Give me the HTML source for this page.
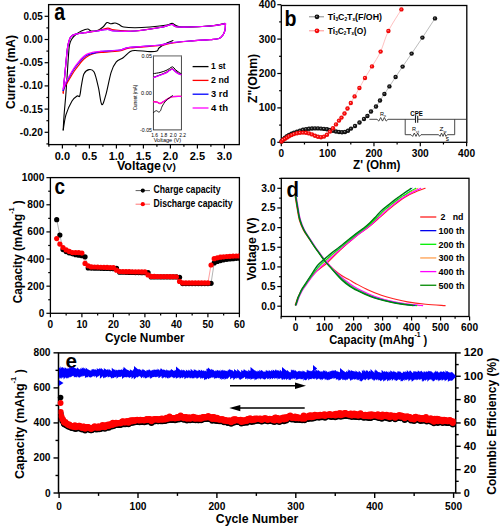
<!DOCTYPE html>
<html><head><meta charset="utf-8"><style>
html,body{margin:0;padding:0;background:#fff;}
svg{display:block;font-family:"Liberation Sans", sans-serif;}
</style></head><body>
<svg width="501" height="529" viewBox="0 0 501 529" font-family='"Liberation Sans", sans-serif'>
<rect width="501" height="529" fill="#fff"/>
<rect x="48.60" y="4.60" width="190.70" height="140.00" fill="none" stroke="#000" stroke-width="1.3"/>
<line x1="48.60" y1="16.30" x2="44.60" y2="16.30" stroke="#000" stroke-width="1.2" />
<line x1="48.60" y1="39.50" x2="44.60" y2="39.50" stroke="#000" stroke-width="1.2" />
<line x1="48.60" y1="62.70" x2="44.60" y2="62.70" stroke="#000" stroke-width="1.2" />
<line x1="48.60" y1="85.90" x2="44.60" y2="85.90" stroke="#000" stroke-width="1.2" />
<line x1="48.60" y1="109.10" x2="44.60" y2="109.10" stroke="#000" stroke-width="1.2" />
<line x1="48.60" y1="132.30" x2="44.60" y2="132.30" stroke="#000" stroke-width="1.2" />
<line x1="48.60" y1="27.90" x2="46.40" y2="27.90" stroke="#000" stroke-width="1.2" />
<line x1="48.60" y1="51.10" x2="46.40" y2="51.10" stroke="#000" stroke-width="1.2" />
<line x1="48.60" y1="74.30" x2="46.40" y2="74.30" stroke="#000" stroke-width="1.2" />
<line x1="48.60" y1="97.50" x2="46.40" y2="97.50" stroke="#000" stroke-width="1.2" />
<line x1="48.60" y1="120.70" x2="46.40" y2="120.70" stroke="#000" stroke-width="1.2" />
<line x1="48.60" y1="143.90" x2="46.40" y2="143.90" stroke="#000" stroke-width="1.2" />
<text x="42.80" y="19.80" font-size="10" font-weight="bold" text-anchor="end" fill="#000" textLength="19.2" lengthAdjust="spacingAndGlyphs" >0.05</text>
<text x="42.80" y="43.00" font-size="10" font-weight="bold" text-anchor="end" fill="#000" textLength="19.2" lengthAdjust="spacingAndGlyphs" >0.00</text>
<text x="42.80" y="66.20" font-size="10" font-weight="bold" text-anchor="end" fill="#000" textLength="23" lengthAdjust="spacingAndGlyphs" >-0.05</text>
<text x="42.80" y="89.40" font-size="10" font-weight="bold" text-anchor="end" fill="#000" textLength="23" lengthAdjust="spacingAndGlyphs" >-0.10</text>
<text x="42.80" y="112.60" font-size="10" font-weight="bold" text-anchor="end" fill="#000" textLength="23" lengthAdjust="spacingAndGlyphs" >-0.15</text>
<text x="42.80" y="135.80" font-size="10" font-weight="bold" text-anchor="end" fill="#000" textLength="23" lengthAdjust="spacingAndGlyphs" >-0.20</text>
<line x1="62.40" y1="144.60" x2="62.40" y2="148.60" stroke="#000" stroke-width="1.2" />
<line x1="89.40" y1="144.60" x2="89.40" y2="148.60" stroke="#000" stroke-width="1.2" />
<line x1="116.40" y1="144.60" x2="116.40" y2="148.60" stroke="#000" stroke-width="1.2" />
<line x1="143.40" y1="144.60" x2="143.40" y2="148.60" stroke="#000" stroke-width="1.2" />
<line x1="170.40" y1="144.60" x2="170.40" y2="148.60" stroke="#000" stroke-width="1.2" />
<line x1="197.40" y1="144.60" x2="197.40" y2="148.60" stroke="#000" stroke-width="1.2" />
<line x1="224.40" y1="144.60" x2="224.40" y2="148.60" stroke="#000" stroke-width="1.2" />
<line x1="48.90" y1="144.60" x2="48.90" y2="146.80" stroke="#000" stroke-width="1.2" />
<line x1="75.90" y1="144.60" x2="75.90" y2="146.80" stroke="#000" stroke-width="1.2" />
<line x1="102.90" y1="144.60" x2="102.90" y2="146.80" stroke="#000" stroke-width="1.2" />
<line x1="129.90" y1="144.60" x2="129.90" y2="146.80" stroke="#000" stroke-width="1.2" />
<line x1="156.90" y1="144.60" x2="156.90" y2="146.80" stroke="#000" stroke-width="1.2" />
<line x1="183.90" y1="144.60" x2="183.90" y2="146.80" stroke="#000" stroke-width="1.2" />
<line x1="210.90" y1="144.60" x2="210.90" y2="146.80" stroke="#000" stroke-width="1.2" />
<text x="62.40" y="159.50" font-size="10" font-weight="bold" text-anchor="middle" fill="#000" textLength="15.3" lengthAdjust="spacingAndGlyphs" >0.0</text>
<text x="89.40" y="159.50" font-size="10" font-weight="bold" text-anchor="middle" fill="#000" textLength="15.3" lengthAdjust="spacingAndGlyphs" >0.5</text>
<text x="116.40" y="159.50" font-size="10" font-weight="bold" text-anchor="middle" fill="#000" textLength="15.3" lengthAdjust="spacingAndGlyphs" >1.0</text>
<text x="143.40" y="159.50" font-size="10" font-weight="bold" text-anchor="middle" fill="#000" textLength="15.3" lengthAdjust="spacingAndGlyphs" >1.5</text>
<text x="170.40" y="159.50" font-size="10" font-weight="bold" text-anchor="middle" fill="#000" textLength="15.3" lengthAdjust="spacingAndGlyphs" >2.0</text>
<text x="197.40" y="159.50" font-size="10" font-weight="bold" text-anchor="middle" fill="#000" textLength="15.3" lengthAdjust="spacingAndGlyphs" >2.5</text>
<text x="224.40" y="159.50" font-size="10" font-weight="bold" text-anchor="middle" fill="#000" textLength="15.3" lengthAdjust="spacingAndGlyphs" >3.0</text>
<text x="117.00" y="170.00" font-size="12.5" font-weight="bold" text-anchor="start" fill="#000" textLength="44" lengthAdjust="spacingAndGlyphs" >Voltage</text>
<text x="162.50" y="170.00" font-size="9.5" font-weight="bold" text-anchor="start" fill="#000" textLength="13.5" lengthAdjust="spacingAndGlyphs" >(V)</text>
<text transform="translate(15.40,72.00) rotate(-90)" x="0" y="0" font-size="12.5" font-weight="bold" text-anchor="middle" textLength="74" lengthAdjust="spacingAndGlyphs">Current (mA)</text>
<text x="54.20" y="19.60" font-size="23" font-weight="bold" text-anchor="start" fill="#000" textLength="10.8" lengthAdjust="spacingAndGlyphs" >a</text>
<line x1="192.60" y1="66.60" x2="208.50" y2="66.60" stroke="#000" stroke-width="1.3" />
<text x="211.10" y="69.40" font-size="9" font-weight="bold" text-anchor="start" fill="#000" textLength="14.6" lengthAdjust="spacingAndGlyphs" >1 st</text>
<line x1="192.60" y1="80.40" x2="208.50" y2="80.40" stroke="#ff0000" stroke-width="1.3" />
<text x="211.10" y="83.20" font-size="9" font-weight="bold" text-anchor="start" fill="#000" textLength="18" lengthAdjust="spacingAndGlyphs" >2 nd</text>
<line x1="192.60" y1="94.20" x2="208.50" y2="94.20" stroke="#0000ff" stroke-width="1.3" />
<text x="211.10" y="97.00" font-size="9" font-weight="bold" text-anchor="start" fill="#000" textLength="17" lengthAdjust="spacingAndGlyphs" >3 rd</text>
<line x1="192.60" y1="108.00" x2="208.50" y2="108.00" stroke="#ff00ff" stroke-width="1.3" />
<text x="211.10" y="110.80" font-size="9" font-weight="bold" text-anchor="start" fill="#000" textLength="17" lengthAdjust="spacingAndGlyphs" >4 th</text>
<path d="M63.20,130.00 C63.33,127.67 63.57,121.83 64.00,116.00 C64.43,110.17 65.27,101.83 65.80,95.00 C66.33,88.17 66.78,81.17 67.20,75.00 C67.62,68.83 67.92,63.00 68.30,58.00 C68.68,53.00 68.92,48.17 69.50,45.00 C70.08,41.83 70.75,40.75 71.80,39.00 C72.85,37.25 74.20,35.83 75.80,34.50 C77.40,33.17 79.42,31.92 81.40,31.00 C83.38,30.08 86.10,29.00 87.70,29.00 C89.30,29.00 89.28,30.80 91.00,31.00 C92.72,31.20 96.00,30.87 98.00,30.20 C100.00,29.53 101.50,28.27 103.00,27.00 C104.50,25.73 105.67,23.13 107.00,22.60 C108.33,22.07 109.67,23.73 111.00,23.80 C112.33,23.87 113.67,22.87 115.00,23.00 C116.33,23.13 117.55,23.93 119.00,24.60 C120.45,25.27 121.03,26.47 123.70,27.00 C126.37,27.53 130.62,27.80 135.00,27.80 C139.38,27.80 144.67,27.47 150.00,27.00 C155.33,26.53 163.33,25.60 167.00,25.00 C170.67,24.40 170.50,23.33 172.00,23.40 C173.50,23.47 174.33,24.80 176.00,25.40 C177.67,26.00 176.33,26.90 182.00,27.00 C187.67,27.10 202.83,26.60 210.00,26.00 C217.17,25.40 222.50,23.83 225.00,23.40" fill="none" stroke="#000" stroke-width="1.1" stroke-linejoin="round" stroke-linecap="round" />
<path d="M63.20,130.00 C63.67,127.45 64.53,119.53 66.00,114.70 C67.47,109.87 70.15,104.12 72.00,101.00 C73.85,97.88 75.82,96.83 77.10,96.00 C78.38,95.17 78.98,97.72 79.70,96.00 C80.42,94.28 80.68,89.40 81.40,85.70 C82.12,82.00 82.73,76.48 84.00,73.80 C85.27,71.12 87.32,69.88 89.00,69.60 C90.68,69.32 92.53,69.13 94.10,72.10 C95.67,75.07 97.12,82.00 98.40,87.40 C99.68,92.80 100.53,103.35 101.80,104.50 C103.07,105.65 104.43,99.70 106.00,94.30 C107.57,88.90 109.48,77.50 111.20,72.10 C112.92,66.70 114.32,64.30 116.30,61.90 C118.28,59.50 120.83,59.40 123.10,57.70 C125.37,56.00 127.92,52.90 129.90,51.70 C131.88,50.50 131.65,50.52 135.00,50.50 C138.35,50.48 146.33,51.52 150.00,51.60 C153.67,51.68 155.50,51.60 157.00,51.00 C158.50,50.40 157.67,49.17 159.00,48.00 C160.33,46.83 162.67,45.23 165.00,44.00 C167.33,42.77 171.67,41.17 173.00,40.60" fill="none" stroke="#000" stroke-width="1.1" stroke-linejoin="round" stroke-linecap="round" />
<path d="M63.20,93.40 C63.42,90.83 64.00,83.57 64.50,78.00 C65.00,72.43 65.70,65.00 66.20,60.00 C66.70,55.00 67.03,51.17 67.50,48.00 C67.97,44.83 68.42,42.90 69.00,41.00 C69.58,39.10 69.87,37.73 71.00,36.60 C72.13,35.47 73.13,34.92 75.80,34.20 C78.47,33.48 83.55,32.83 87.00,32.30 C90.45,31.77 93.05,31.68 96.50,31.00 C99.95,30.32 104.77,28.40 107.70,28.20 C110.63,28.00 109.57,29.33 114.10,29.80 C118.63,30.27 127.25,31.38 134.90,31.00 C142.55,30.62 153.82,28.58 160.00,27.50 C166.18,26.42 169.00,24.58 172.00,24.50 C175.00,24.42 171.67,26.75 178.00,27.00 C184.33,27.25 202.08,26.57 210.00,26.00 C217.92,25.43 222.92,24.00 225.50,23.60" fill="none" stroke="#ff0000" stroke-width="1.2" stroke-linejoin="round" stroke-linecap="round" />
<path d="M225.50,23.60 C225.42,24.67 225.42,28.10 225.00,30.00 C224.58,31.90 224.00,33.58 223.00,35.00 C222.00,36.42 221.17,37.73 219.00,38.50 C216.83,39.27 214.83,39.18 210.00,39.60 C205.17,40.02 196.67,40.35 190.00,41.00 C183.33,41.65 175.00,42.75 170.00,43.50 C165.00,44.25 166.67,44.75 160.00,45.50 C153.33,46.25 136.72,47.08 130.00,48.00 C123.28,48.92 124.53,50.25 119.70,51.00 C114.87,51.75 105.12,52.13 101.00,52.50 C96.88,52.87 96.83,52.78 95.00,53.20 C93.17,53.62 91.47,54.32 90.00,55.00 C88.53,55.68 87.53,56.30 86.20,57.30 C84.87,58.30 83.27,59.67 82.00,61.00 C80.73,62.33 79.93,63.55 78.60,65.30 C77.27,67.05 75.57,69.13 74.00,71.50 C72.43,73.87 70.78,76.83 69.20,79.50 C67.62,82.17 65.50,85.37 64.50,87.50 C63.50,89.63 63.42,91.50 63.20,92.30" fill="none" stroke="#ff0000" stroke-width="1.2" stroke-linejoin="round" stroke-linecap="round" />
<path d="M63.20,90.50 C63.42,88.42 64.00,83.08 64.50,78.00 C65.00,72.92 65.70,65.00 66.20,60.00 C66.70,55.00 67.03,51.17 67.50,48.00 C67.97,44.83 68.42,42.90 69.00,41.00 C69.58,39.10 69.87,37.73 71.00,36.60 C72.13,35.47 73.13,34.92 75.80,34.20 C78.47,33.48 83.55,32.83 87.00,32.30 C90.45,31.77 93.05,31.48 96.50,31.00 C99.95,30.52 104.77,29.40 107.70,29.40 C110.63,29.40 109.57,30.73 114.10,31.00 C118.63,31.27 127.25,31.58 134.90,31.00 C142.55,30.42 153.82,28.58 160.00,27.50 C166.18,26.42 169.00,24.58 172.00,24.50 C175.00,24.42 171.67,26.75 178.00,27.00 C184.33,27.25 202.08,26.57 210.00,26.00 C217.92,25.43 222.92,24.00 225.50,23.60" fill="none" stroke="#0000ff" stroke-width="1.2" stroke-linejoin="round" stroke-linecap="round" />
<path d="M225.50,23.60 C225.42,24.67 225.42,28.10 225.00,30.00 C224.58,31.90 224.00,33.58 223.00,35.00 C222.00,36.42 221.17,37.73 219.00,38.50 C216.83,39.27 214.83,39.18 210.00,39.60 C205.17,40.02 196.67,40.43 190.00,41.00 C183.33,41.57 175.00,42.33 170.00,43.00 C165.00,43.67 166.67,44.27 160.00,45.00 C153.33,45.73 136.72,46.57 130.00,47.40 C123.28,48.23 124.53,49.35 119.70,50.00 C114.87,50.65 105.12,50.83 101.00,51.30 C96.88,51.77 96.83,52.35 95.00,52.80 C93.17,53.25 91.47,53.53 90.00,54.00 C88.53,54.47 87.53,54.77 86.20,55.60 C84.87,56.43 83.27,57.77 82.00,59.00 C80.73,60.23 79.93,61.33 78.60,63.00 C77.27,64.67 75.57,66.63 74.00,69.00 C72.43,71.37 70.53,74.87 69.20,77.20 C67.87,79.53 67.00,80.78 66.00,83.00 C65.00,85.22 63.67,89.25 63.20,90.50" fill="none" stroke="#0000ff" stroke-width="1.2" stroke-linejoin="round" stroke-linecap="round" />
<path d="M63.20,89.00 C63.42,87.17 64.00,82.83 64.50,78.00 C65.00,73.17 65.70,65.00 66.20,60.00 C66.70,55.00 67.03,51.17 67.50,48.00 C67.97,44.83 68.42,42.90 69.00,41.00 C69.58,39.10 69.87,37.73 71.00,36.60 C72.13,35.47 73.13,34.92 75.80,34.20 C78.47,33.48 83.55,32.83 87.00,32.30 C90.45,31.77 93.05,31.48 96.50,31.00 C99.95,30.52 104.77,29.40 107.70,29.40 C110.63,29.40 109.57,30.73 114.10,31.00 C118.63,31.27 127.25,31.58 134.90,31.00 C142.55,30.42 153.82,28.58 160.00,27.50 C166.18,26.42 169.00,24.58 172.00,24.50 C175.00,24.42 171.67,26.75 178.00,27.00 C184.33,27.25 202.08,26.57 210.00,26.00 C217.92,25.43 222.92,24.00 225.50,23.60" fill="none" stroke="#ff00ff" stroke-width="1.25" stroke-linejoin="round" stroke-linecap="round" />
<path d="M225.50,23.60 C225.42,24.67 225.42,28.10 225.00,30.00 C224.58,31.90 224.00,33.58 223.00,35.00 C222.00,36.42 221.17,37.73 219.00,38.50 C216.83,39.27 214.83,39.18 210.00,39.60 C205.17,40.02 196.67,40.43 190.00,41.00 C183.33,41.57 175.00,42.33 170.00,43.00 C165.00,43.67 166.67,44.27 160.00,45.00 C153.33,45.73 136.72,46.57 130.00,47.40 C123.28,48.23 124.53,49.35 119.70,50.00 C114.87,50.65 105.12,51.00 101.00,51.30 C96.88,51.60 96.83,51.52 95.00,51.80 C93.17,52.08 91.47,52.53 90.00,53.00 C88.53,53.47 87.53,53.77 86.20,54.60 C84.87,55.43 83.27,56.77 82.00,58.00 C80.73,59.23 79.93,60.33 78.60,62.00 C77.27,63.67 75.57,65.63 74.00,68.00 C72.43,70.37 70.53,73.87 69.20,76.20 C67.87,78.53 67.00,79.90 66.00,82.00 C65.00,84.10 63.67,87.67 63.20,88.80" fill="none" stroke="#ff00ff" stroke-width="1.25" stroke-linejoin="round" stroke-linecap="round" />
<rect x="153.4" y="55.8" width="28.00" height="74.10" fill="#fff" stroke="#333" stroke-width="0.9"/>
<line x1="153.40" y1="55.80" x2="181.40" y2="55.80" stroke="#aaa" stroke-width="1.4" />
<text x="151.90" y="57.60" font-size="6" font-weight="normal" text-anchor="end" fill="#000" textLength="10.5" lengthAdjust="spacingAndGlyphs" >0.05</text>
<text x="151.90" y="94.90" font-size="6" font-weight="normal" text-anchor="end" fill="#000" textLength="10.8" lengthAdjust="spacingAndGlyphs" >0.00</text>
<text x="151.90" y="131.70" font-size="6" font-weight="normal" text-anchor="end" fill="#000" textLength="11.8" lengthAdjust="spacingAndGlyphs" >-0.05</text>
<text transform="translate(137.10,97.50) rotate(-90)" x="0" y="0" font-size="6" font-weight="normal" text-anchor="middle" textLength="25.5" lengthAdjust="spacingAndGlyphs">Current (mA)</text>
<text x="154.60" y="136.50" font-size="6" font-weight="normal" text-anchor="middle" fill="#000" textLength="6.8" lengthAdjust="spacingAndGlyphs" >1.6</text>
<text x="163.93" y="136.50" font-size="6" font-weight="normal" text-anchor="middle" fill="#000" textLength="6.8" lengthAdjust="spacingAndGlyphs" >1.8</text>
<text x="173.27" y="136.50" font-size="6" font-weight="normal" text-anchor="middle" fill="#000" textLength="6.8" lengthAdjust="spacingAndGlyphs" >2.0</text>
<text x="182.60" y="136.50" font-size="6" font-weight="normal" text-anchor="middle" fill="#000" textLength="6.8" lengthAdjust="spacingAndGlyphs" >2.2</text>
<text x="167.40" y="142.30" font-size="6" font-weight="normal" text-anchor="middle" fill="#000" textLength="27.5" lengthAdjust="spacingAndGlyphs" >Voltage (V)</text>
<path d="M153.60,73.60 C154.67,73.42 157.93,73.02 160.00,72.50 C162.07,71.98 164.42,71.17 166.00,70.50 C167.58,69.83 168.45,69.12 169.50,68.50 C170.55,67.88 171.55,66.88 172.30,66.80 C173.05,66.72 173.22,67.30 174.00,68.00 C174.78,68.70 175.83,70.07 177.00,71.00 C178.17,71.93 180.33,73.17 181.00,73.60" fill="none" stroke="#000" stroke-width="1.0" stroke-linejoin="round" stroke-linecap="round" />
<path d="M153.60,77.40 C154.67,77.00 157.93,75.82 160.00,75.00 C162.07,74.18 164.42,73.30 166.00,72.50 C167.58,71.70 168.45,70.83 169.50,70.20 C170.55,69.57 171.55,68.73 172.30,68.70 C173.05,68.67 173.22,69.37 174.00,70.00 C174.78,70.63 175.83,71.73 177.00,72.50 C178.17,73.27 180.33,74.25 181.00,74.60" fill="none" stroke="#ff0000" stroke-width="1.1" stroke-linejoin="round" stroke-linecap="round" />
<path d="M153.60,77.40 C154.67,77.00 157.93,75.77 160.00,75.00 C162.07,74.23 164.42,73.57 166.00,72.80 C167.58,72.03 168.45,71.03 169.50,70.40 C170.55,69.77 171.55,69.03 172.30,69.00 C173.05,68.97 173.22,69.58 174.00,70.20 C174.78,70.82 175.83,71.97 177.00,72.70 C178.17,73.43 180.33,74.28 181.00,74.60" fill="none" stroke="#0000ff" stroke-width="1.1" stroke-linejoin="round" stroke-linecap="round" />
<path d="M153.60,77.80 C154.67,77.38 157.93,76.10 160.00,75.30 C162.07,74.50 164.42,73.78 166.00,73.00 C167.58,72.22 168.45,71.22 169.50,70.60 C170.55,69.98 171.55,69.32 172.30,69.30 C173.05,69.28 173.22,69.88 174.00,70.50 C174.78,71.12 175.83,72.28 177.00,73.00 C178.17,73.72 180.33,74.50 181.00,74.80" fill="none" stroke="#ff00ff" stroke-width="1.1" stroke-linejoin="round" stroke-linecap="round" />
<path d="M153.60,101.60 C154.17,101.67 155.93,101.67 157.00,102.00 C158.07,102.33 159.00,103.60 160.00,103.60 C161.00,103.60 161.75,102.75 163.00,102.00 C164.25,101.25 165.92,100.00 167.50,99.10 C169.08,98.20 170.25,97.07 172.50,96.60 C174.75,96.13 179.58,96.35 181.00,96.30" fill="none" stroke="#ff0000" stroke-width="1.2" stroke-linejoin="round" stroke-linecap="round" />
<path d="M153.60,101.80 C154.17,101.87 155.93,101.93 157.00,102.20 C158.07,102.47 159.00,103.47 160.00,103.40 C161.00,103.33 161.75,102.52 163.00,101.80 C164.25,101.08 165.92,99.97 167.50,99.10 C169.08,98.23 170.25,97.07 172.50,96.60 C174.75,96.13 179.58,96.35 181.00,96.30" fill="none" stroke="#ff00ff" stroke-width="1.2" stroke-linejoin="round" stroke-linecap="round" />
<path d="M153.60,112.50 C154.05,112.20 155.45,110.78 156.30,110.70 C157.15,110.62 158.00,112.00 158.70,112.00 C159.40,112.00 159.90,111.70 160.50,110.70 C161.10,109.70 161.38,107.68 162.30,106.00 C163.22,104.32 164.80,101.97 166.00,100.60 C167.20,99.23 168.42,98.63 169.50,97.80 C170.58,96.97 172.00,95.97 172.50,95.60" fill="none" stroke="#000" stroke-width="0.9" stroke-linejoin="round" stroke-linecap="round" />
<defs><radialGradient id="gb" cx="0.5" cy="0.5" r="0.5" fx="0.4" fy="0.4"><stop offset="0" stop-color="#999"/><stop offset="0.4" stop-color="#222"/><stop offset="1" stop-color="#000"/></radialGradient><radialGradient id="gr" cx="0.5" cy="0.5" r="0.5" fx="0.4" fy="0.4"><stop offset="0" stop-color="#ffaaaa"/><stop offset="0.4" stop-color="#ff1010"/><stop offset="1" stop-color="#e00000"/></radialGradient></defs>
<rect x="281.30" y="5.50" width="185.50" height="136.80" fill="none" stroke="#000" stroke-width="1.3"/>
<line x1="281.30" y1="142.30" x2="277.30" y2="142.30" stroke="#000" stroke-width="1.2" />
<line x1="281.30" y1="107.90" x2="277.30" y2="107.90" stroke="#000" stroke-width="1.2" />
<line x1="281.30" y1="73.50" x2="277.30" y2="73.50" stroke="#000" stroke-width="1.2" />
<line x1="281.30" y1="39.10" x2="277.30" y2="39.10" stroke="#000" stroke-width="1.2" />
<line x1="281.30" y1="4.70" x2="277.30" y2="4.70" stroke="#000" stroke-width="1.2" />
<line x1="281.30" y1="125.10" x2="279.10" y2="125.10" stroke="#000" stroke-width="1.2" />
<line x1="281.30" y1="90.70" x2="279.10" y2="90.70" stroke="#000" stroke-width="1.2" />
<line x1="281.30" y1="56.30" x2="279.10" y2="56.30" stroke="#000" stroke-width="1.2" />
<line x1="281.30" y1="21.90" x2="279.10" y2="21.90" stroke="#000" stroke-width="1.2" />
<text x="275.80" y="145.80" font-size="10" font-weight="bold" text-anchor="end" fill="#000" textLength="5.6" lengthAdjust="spacingAndGlyphs" >0</text>
<text x="275.80" y="111.40" font-size="10" font-weight="bold" text-anchor="end" fill="#000" textLength="17" lengthAdjust="spacingAndGlyphs" >100</text>
<text x="275.80" y="77.00" font-size="10" font-weight="bold" text-anchor="end" fill="#000" textLength="17" lengthAdjust="spacingAndGlyphs" >200</text>
<text x="275.80" y="42.60" font-size="10" font-weight="bold" text-anchor="end" fill="#000" textLength="17" lengthAdjust="spacingAndGlyphs" >300</text>
<text x="275.80" y="8.20" font-size="10" font-weight="bold" text-anchor="end" fill="#000" textLength="17" lengthAdjust="spacingAndGlyphs" >400</text>
<line x1="281.30" y1="142.30" x2="281.30" y2="146.30" stroke="#000" stroke-width="1.2" />
<line x1="327.63" y1="142.30" x2="327.63" y2="146.30" stroke="#000" stroke-width="1.2" />
<line x1="373.96" y1="142.30" x2="373.96" y2="146.30" stroke="#000" stroke-width="1.2" />
<line x1="420.29" y1="142.30" x2="420.29" y2="146.30" stroke="#000" stroke-width="1.2" />
<line x1="466.62" y1="142.30" x2="466.62" y2="146.30" stroke="#000" stroke-width="1.2" />
<line x1="304.47" y1="142.30" x2="304.47" y2="144.50" stroke="#000" stroke-width="1.2" />
<line x1="350.80" y1="142.30" x2="350.80" y2="144.50" stroke="#000" stroke-width="1.2" />
<line x1="397.12" y1="142.30" x2="397.12" y2="144.50" stroke="#000" stroke-width="1.2" />
<line x1="443.46" y1="142.30" x2="443.46" y2="144.50" stroke="#000" stroke-width="1.2" />
<text x="281.30" y="157.00" font-size="10" font-weight="bold" text-anchor="middle" fill="#000" textLength="5.6" lengthAdjust="spacingAndGlyphs" >0</text>
<text x="327.63" y="157.00" font-size="10" font-weight="bold" text-anchor="middle" fill="#000" textLength="17" lengthAdjust="spacingAndGlyphs" >100</text>
<text x="373.96" y="157.00" font-size="10" font-weight="bold" text-anchor="middle" fill="#000" textLength="17" lengthAdjust="spacingAndGlyphs" >200</text>
<text x="420.29" y="157.00" font-size="10" font-weight="bold" text-anchor="middle" fill="#000" textLength="17" lengthAdjust="spacingAndGlyphs" >300</text>
<text x="466.62" y="157.00" font-size="10" font-weight="bold" text-anchor="middle" fill="#000" textLength="17" lengthAdjust="spacingAndGlyphs" >400</text>
<text x="353.00" y="169.00" font-size="12.5" font-weight="bold" text-anchor="start" fill="#000" textLength="47.5" lengthAdjust="spacingAndGlyphs" >Z' (Ohm)</text>
<text transform="translate(256.80,78.40) rotate(-90)" x="0" y="0" font-size="12" font-weight="bold" text-anchor="middle" textLength="49" lengthAdjust="spacingAndGlyphs">Z"(Ohm)</text>
<text x="284.60" y="26.00" font-size="22" font-weight="bold" text-anchor="start" fill="#000" textLength="12" lengthAdjust="spacingAndGlyphs" >b</text>
<line x1="309.00" y1="16.80" x2="324.00" y2="16.80" stroke="#555" stroke-width="0.7" />
<circle cx="317" cy="16.8" r="2.4" fill="url(#gb)"/>
<line x1="309.00" y1="30.80" x2="324.00" y2="30.80" stroke="#ff6060" stroke-width="0.7" />
<circle cx="317" cy="30.8" r="2.4" fill="url(#gr)"/>
<text x="327.8" y="20.2" font-size="9.3" font-weight="bold" textLength="54.2" lengthAdjust="spacingAndGlyphs">Ti<tspan font-size="5" dy="0.6">3</tspan><tspan dy="-0.6">C</tspan><tspan font-size="5" dy="0.6">2</tspan><tspan dy="-0.6">T</tspan><tspan font-size="5" dy="0.6">x</tspan><tspan dy="-0.6">(F/OH)</tspan></text>
<text x="327.8" y="34.2" font-size="9.3" font-weight="bold" textLength="38.4" lengthAdjust="spacingAndGlyphs">Ti<tspan font-size="5" dy="0.6">3</tspan><tspan dy="-0.6">C</tspan><tspan font-size="5" dy="0.6">2</tspan><tspan dy="-0.6">T</tspan><tspan font-size="5" dy="0.6">x</tspan><tspan dy="-0.6">(O)</tspan></text>
<path d="M281.50,141.50 C281.75,141.17 282.42,140.12 283.00,139.50 C283.58,138.88 284.33,138.33 285.00,137.80 C285.67,137.27 286.33,136.77 287.00,136.30 C287.67,135.83 288.25,135.43 289.00,135.00 C289.75,134.57 290.67,134.10 291.50,133.70 C292.33,133.30 293.08,132.95 294.00,132.60 C294.92,132.25 296.00,131.93 297.00,131.60 C298.00,131.27 299.00,130.90 300.00,130.60 C301.00,130.30 302.00,130.03 303.00,129.80 C304.00,129.57 305.00,129.37 306.00,129.20 C307.00,129.03 308.00,128.92 309.00,128.80 C310.00,128.68 311.00,128.57 312.00,128.50 C313.00,128.43 314.00,128.42 315.00,128.40 C316.00,128.38 317.00,128.37 318.00,128.40 C319.00,128.43 320.00,128.52 321.00,128.60 C322.00,128.68 323.00,128.78 324.00,128.90 C325.00,129.02 326.00,129.12 327.00,129.30 C328.00,129.48 329.00,129.75 330.00,130.00 C331.00,130.25 332.00,130.55 333.00,130.80 C334.00,131.05 335.00,131.30 336.00,131.50 C337.00,131.70 338.00,131.87 339.00,132.00 C340.00,132.13 341.00,132.30 342.00,132.30 C343.00,132.30 344.00,132.25 345.00,132.00 C346.00,131.75 347.00,131.37 348.00,130.80 C349.00,130.23 349.83,129.40 351.00,128.60 C352.17,127.80 353.58,127.02 355.00,126.00 C356.42,124.98 358.00,123.67 359.50,122.50 C361.00,121.33 362.68,120.08 364.00,119.00 C365.32,117.92 366.23,117.25 367.40,116.00 C368.57,114.75 369.57,113.08 371.00,111.50 C372.43,109.92 374.50,108.33 376.00,106.50 C377.50,104.67 378.60,102.58 380.00,100.50 C381.40,98.42 382.83,96.35 384.40,94.00 C385.97,91.65 387.53,89.23 389.40,86.40 C391.27,83.57 393.40,80.30 395.60,77.00 C397.80,73.70 399.93,70.50 402.60,66.60 C405.27,62.70 408.30,58.43 411.60,53.60 C414.90,48.77 418.50,43.47 422.40,37.60 C426.30,31.73 432.90,21.60 435.00,18.40" fill="none" stroke="#777" stroke-width="0.5" stroke-linejoin="round" stroke-linecap="round" />
<path d="M281.50,141.50 C281.75,141.25 282.42,140.47 283.00,140.00 C283.58,139.53 284.33,139.12 285.00,138.70 C285.67,138.28 286.33,137.90 287.00,137.50 C287.67,137.10 288.25,136.70 289.00,136.30 C289.75,135.90 290.67,135.47 291.50,135.10 C292.33,134.73 293.08,134.40 294.00,134.10 C294.92,133.80 296.00,133.52 297.00,133.30 C298.00,133.08 299.00,132.92 300.00,132.80 C301.00,132.68 302.00,132.60 303.00,132.60 C304.00,132.60 305.00,132.67 306.00,132.80 C307.00,132.93 308.00,133.13 309.00,133.40 C310.00,133.67 311.00,134.02 312.00,134.40 C313.00,134.78 314.00,135.30 315.00,135.70 C316.00,136.10 317.00,136.55 318.00,136.80 C319.00,137.05 320.00,137.23 321.00,137.20 C322.00,137.17 323.00,137.00 324.00,136.60 C325.00,136.20 326.00,135.63 327.00,134.80 C328.00,133.97 329.00,132.68 330.00,131.60 C331.00,130.52 332.00,129.50 333.00,128.30 C334.00,127.10 335.00,125.68 336.00,124.40 C337.00,123.12 338.08,121.73 339.00,120.60 C339.92,119.47 340.58,118.78 341.50,117.60 C342.42,116.42 343.50,115.02 344.50,113.50 C345.50,111.98 346.45,110.25 347.50,108.50 C348.55,106.75 349.62,105.02 350.80,103.00 C351.98,100.98 353.17,98.90 354.60,96.40 C356.03,93.90 357.67,91.07 359.40,88.00 C361.13,84.93 362.90,81.60 365.00,78.00 C367.10,74.40 369.40,70.80 372.00,66.40 C374.60,62.00 377.87,57.50 380.60,51.60 C383.33,45.70 384.93,38.03 388.40,31.00 C391.87,23.97 399.23,13.00 401.40,9.40" fill="none" stroke="#ff8080" stroke-width="0.5" stroke-linejoin="round" stroke-linecap="round" />
<circle cx="281.5" cy="141.5" r="2.2" fill="url(#gb)"/>
<circle cx="283.0" cy="139.5" r="2.2" fill="url(#gb)"/>
<circle cx="285.0" cy="137.8" r="2.2" fill="url(#gb)"/>
<circle cx="287.0" cy="136.3" r="2.2" fill="url(#gb)"/>
<circle cx="289.0" cy="135.0" r="2.2" fill="url(#gb)"/>
<circle cx="291.5" cy="133.7" r="2.2" fill="url(#gb)"/>
<circle cx="294.0" cy="132.6" r="2.2" fill="url(#gb)"/>
<circle cx="297.0" cy="131.6" r="2.2" fill="url(#gb)"/>
<circle cx="300.0" cy="130.6" r="2.2" fill="url(#gb)"/>
<circle cx="303.0" cy="129.8" r="2.2" fill="url(#gb)"/>
<circle cx="306.0" cy="129.2" r="2.2" fill="url(#gb)"/>
<circle cx="309.0" cy="128.8" r="2.2" fill="url(#gb)"/>
<circle cx="312.0" cy="128.5" r="2.2" fill="url(#gb)"/>
<circle cx="315.0" cy="128.4" r="2.2" fill="url(#gb)"/>
<circle cx="318.0" cy="128.4" r="2.2" fill="url(#gb)"/>
<circle cx="321.0" cy="128.6" r="2.2" fill="url(#gb)"/>
<circle cx="324.0" cy="128.9" r="2.2" fill="url(#gb)"/>
<circle cx="327.0" cy="129.3" r="2.2" fill="url(#gb)"/>
<circle cx="330.0" cy="130.0" r="2.2" fill="url(#gb)"/>
<circle cx="333.0" cy="130.8" r="2.2" fill="url(#gb)"/>
<circle cx="336.0" cy="131.5" r="2.2" fill="url(#gb)"/>
<circle cx="339.0" cy="132.0" r="2.2" fill="url(#gb)"/>
<circle cx="342.0" cy="132.3" r="2.2" fill="url(#gb)"/>
<circle cx="345.0" cy="132.0" r="2.2" fill="url(#gb)"/>
<circle cx="348.0" cy="130.8" r="2.2" fill="url(#gb)"/>
<circle cx="351.0" cy="128.6" r="2.2" fill="url(#gb)"/>
<circle cx="355.0" cy="126.0" r="2.2" fill="url(#gb)"/>
<circle cx="359.5" cy="122.5" r="2.2" fill="url(#gb)"/>
<circle cx="364.0" cy="119.0" r="2.2" fill="url(#gb)"/>
<circle cx="367.4" cy="116.0" r="2.2" fill="url(#gb)"/>
<circle cx="371.0" cy="111.5" r="2.2" fill="url(#gb)"/>
<circle cx="376.0" cy="106.5" r="2.2" fill="url(#gb)"/>
<circle cx="380.0" cy="100.5" r="2.2" fill="url(#gb)"/>
<circle cx="384.4" cy="94.0" r="2.2" fill="url(#gb)"/>
<circle cx="389.4" cy="86.4" r="2.2" fill="url(#gb)"/>
<circle cx="395.6" cy="77.0" r="2.2" fill="url(#gb)"/>
<circle cx="402.6" cy="66.6" r="2.2" fill="url(#gb)"/>
<circle cx="411.6" cy="53.6" r="2.2" fill="url(#gb)"/>
<circle cx="422.4" cy="37.6" r="2.2" fill="url(#gb)"/>
<circle cx="435.0" cy="18.4" r="2.2" fill="url(#gb)"/>
<circle cx="281.5" cy="141.5" r="2.2" fill="url(#gr)"/>
<circle cx="283.0" cy="140.0" r="2.2" fill="url(#gr)"/>
<circle cx="285.0" cy="138.7" r="2.2" fill="url(#gr)"/>
<circle cx="287.0" cy="137.5" r="2.2" fill="url(#gr)"/>
<circle cx="289.0" cy="136.3" r="2.2" fill="url(#gr)"/>
<circle cx="291.5" cy="135.1" r="2.2" fill="url(#gr)"/>
<circle cx="294.0" cy="134.1" r="2.2" fill="url(#gr)"/>
<circle cx="297.0" cy="133.3" r="2.2" fill="url(#gr)"/>
<circle cx="300.0" cy="132.8" r="2.2" fill="url(#gr)"/>
<circle cx="303.0" cy="132.6" r="2.2" fill="url(#gr)"/>
<circle cx="306.0" cy="132.8" r="2.2" fill="url(#gr)"/>
<circle cx="309.0" cy="133.4" r="2.2" fill="url(#gr)"/>
<circle cx="312.0" cy="134.4" r="2.2" fill="url(#gr)"/>
<circle cx="315.0" cy="135.7" r="2.2" fill="url(#gr)"/>
<circle cx="318.0" cy="136.8" r="2.2" fill="url(#gr)"/>
<circle cx="321.0" cy="137.2" r="2.2" fill="url(#gr)"/>
<circle cx="324.0" cy="136.6" r="2.2" fill="url(#gr)"/>
<circle cx="327.0" cy="134.8" r="2.2" fill="url(#gr)"/>
<circle cx="330.0" cy="131.6" r="2.2" fill="url(#gr)"/>
<circle cx="333.0" cy="128.3" r="2.2" fill="url(#gr)"/>
<circle cx="336.0" cy="124.4" r="2.2" fill="url(#gr)"/>
<circle cx="339.0" cy="120.6" r="2.2" fill="url(#gr)"/>
<circle cx="341.5" cy="117.6" r="2.2" fill="url(#gr)"/>
<circle cx="344.5" cy="113.5" r="2.2" fill="url(#gr)"/>
<circle cx="347.5" cy="108.5" r="2.2" fill="url(#gr)"/>
<circle cx="350.8" cy="103.0" r="2.2" fill="url(#gr)"/>
<circle cx="354.6" cy="96.4" r="2.2" fill="url(#gr)"/>
<circle cx="359.4" cy="88.0" r="2.2" fill="url(#gr)"/>
<circle cx="365.0" cy="78.0" r="2.2" fill="url(#gr)"/>
<circle cx="372.0" cy="66.4" r="2.2" fill="url(#gr)"/>
<circle cx="380.6" cy="51.6" r="2.2" fill="url(#gr)"/>
<circle cx="388.4" cy="31.0" r="2.2" fill="url(#gr)"/>
<circle cx="401.4" cy="9.4" r="2.2" fill="url(#gr)"/>
<line x1="369.40" y1="119.30" x2="377.00" y2="119.30" stroke="#333" stroke-width="0.9" />
<polyline points="377.00,119.30 378.83,121.10 380.67,117.50 382.50,121.10 384.33,117.50 386.17,121.10 388.00,119.30" fill="none" stroke="#333" stroke-width="0.9"/>
<line x1="388.00" y1="119.30" x2="415.50" y2="119.30" stroke="#333" stroke-width="0.9" />
<line x1="417.70" y1="119.30" x2="466.00" y2="119.30" stroke="#333" stroke-width="0.9" />
<line x1="415.50" y1="115.80" x2="415.50" y2="122.80" stroke="#222" stroke-width="1.1" />
<line x1="417.70" y1="115.80" x2="417.70" y2="122.80" stroke="#222" stroke-width="1.1" />
<line x1="405.20" y1="119.30" x2="405.20" y2="134.70" stroke="#333" stroke-width="0.9" />
<line x1="454.70" y1="119.30" x2="454.70" y2="134.70" stroke="#333" stroke-width="0.9" />
<line x1="405.20" y1="134.70" x2="411.00" y2="134.70" stroke="#333" stroke-width="0.9" />
<polyline points="411.00,134.70 412.67,136.40 414.33,133.00 416.00,136.40 417.67,133.00 419.33,136.40 421.00,134.70" fill="none" stroke="#333" stroke-width="0.9"/>
<line x1="421.00" y1="134.70" x2="438.60" y2="134.70" stroke="#333" stroke-width="0.9" />
<polyline points="438.60,134.70 440.07,136.40 441.53,133.00 443.00,136.40 444.47,133.00 445.93,136.40 447.40,134.70" fill="none" stroke="#333" stroke-width="0.9"/>
<line x1="447.40" y1="134.70" x2="454.70" y2="134.70" stroke="#333" stroke-width="0.9" />
<text x="416.60" y="116.00" font-size="6.5" font-weight="bold" text-anchor="middle" fill="#000" textLength="12.5" lengthAdjust="spacingAndGlyphs" >CPE</text>
<text x="380.00" y="115.50" font-size="6" font-weight="normal" text-anchor="start" fill="#000" textLength="4" lengthAdjust="spacingAndGlyphs" >R</text>
<text x="384.00" y="117.00" font-size="4" font-weight="normal" text-anchor="start" fill="#000" >s</text>
<text x="412.00" y="131.00" font-size="6" font-weight="normal" text-anchor="start" fill="#000" textLength="4" lengthAdjust="spacingAndGlyphs" >R</text>
<text x="416.00" y="132.50" font-size="4" font-weight="normal" text-anchor="start" fill="#000" >ct</text>
<text x="439.50" y="131.00" font-size="6" font-weight="normal" text-anchor="start" fill="#000" textLength="4" lengthAdjust="spacingAndGlyphs" >Z</text>
<text x="443.50" y="132.50" font-size="4" font-weight="normal" text-anchor="start" fill="#000" >w</text>
<text x="445.80" y="141.30" font-size="6.5" font-weight="normal" text-anchor="start" fill="#000" >s</text>
<rect x="50.40" y="177.60" width="189.00" height="135.70" fill="none" stroke="#000" stroke-width="1.3"/>
<line x1="50.40" y1="313.30" x2="46.40" y2="313.30" stroke="#000" stroke-width="1.2" />
<line x1="50.40" y1="286.17" x2="46.40" y2="286.17" stroke="#000" stroke-width="1.2" />
<line x1="50.40" y1="259.04" x2="46.40" y2="259.04" stroke="#000" stroke-width="1.2" />
<line x1="50.40" y1="231.91" x2="46.40" y2="231.91" stroke="#000" stroke-width="1.2" />
<line x1="50.40" y1="204.78" x2="46.40" y2="204.78" stroke="#000" stroke-width="1.2" />
<line x1="50.40" y1="177.65" x2="46.40" y2="177.65" stroke="#000" stroke-width="1.2" />
<line x1="50.40" y1="299.74" x2="48.20" y2="299.74" stroke="#000" stroke-width="1.2" />
<line x1="50.40" y1="272.61" x2="48.20" y2="272.61" stroke="#000" stroke-width="1.2" />
<line x1="50.40" y1="245.48" x2="48.20" y2="245.48" stroke="#000" stroke-width="1.2" />
<line x1="50.40" y1="218.35" x2="48.20" y2="218.35" stroke="#000" stroke-width="1.2" />
<line x1="50.40" y1="191.22" x2="48.20" y2="191.22" stroke="#000" stroke-width="1.2" />
<text x="44.30" y="316.80" font-size="10" font-weight="bold" text-anchor="end" fill="#000" textLength="5.6" lengthAdjust="spacingAndGlyphs" >0</text>
<text x="44.30" y="289.67" font-size="10" font-weight="bold" text-anchor="end" fill="#000" textLength="17" lengthAdjust="spacingAndGlyphs" >200</text>
<text x="44.30" y="262.54" font-size="10" font-weight="bold" text-anchor="end" fill="#000" textLength="17" lengthAdjust="spacingAndGlyphs" >400</text>
<text x="44.30" y="235.41" font-size="10" font-weight="bold" text-anchor="end" fill="#000" textLength="17" lengthAdjust="spacingAndGlyphs" >600</text>
<text x="44.30" y="208.28" font-size="10" font-weight="bold" text-anchor="end" fill="#000" textLength="17" lengthAdjust="spacingAndGlyphs" >800</text>
<text x="44.30" y="181.15" font-size="10" font-weight="bold" text-anchor="end" fill="#000" textLength="22.5" lengthAdjust="spacingAndGlyphs" >1000</text>
<line x1="50.40" y1="313.30" x2="50.40" y2="317.30" stroke="#000" stroke-width="1.2" />
<line x1="81.90" y1="313.30" x2="81.90" y2="317.30" stroke="#000" stroke-width="1.2" />
<line x1="113.40" y1="313.30" x2="113.40" y2="317.30" stroke="#000" stroke-width="1.2" />
<line x1="144.90" y1="313.30" x2="144.90" y2="317.30" stroke="#000" stroke-width="1.2" />
<line x1="176.40" y1="313.30" x2="176.40" y2="317.30" stroke="#000" stroke-width="1.2" />
<line x1="207.90" y1="313.30" x2="207.90" y2="317.30" stroke="#000" stroke-width="1.2" />
<line x1="239.40" y1="313.30" x2="239.40" y2="317.30" stroke="#000" stroke-width="1.2" />
<line x1="66.15" y1="313.30" x2="66.15" y2="315.50" stroke="#000" stroke-width="1.2" />
<line x1="97.65" y1="313.30" x2="97.65" y2="315.50" stroke="#000" stroke-width="1.2" />
<line x1="129.15" y1="313.30" x2="129.15" y2="315.50" stroke="#000" stroke-width="1.2" />
<line x1="160.65" y1="313.30" x2="160.65" y2="315.50" stroke="#000" stroke-width="1.2" />
<line x1="192.15" y1="313.30" x2="192.15" y2="315.50" stroke="#000" stroke-width="1.2" />
<line x1="223.65" y1="313.30" x2="223.65" y2="315.50" stroke="#000" stroke-width="1.2" />
<text x="50.40" y="327.50" font-size="10" font-weight="bold" text-anchor="middle" fill="#000" textLength="5.6" lengthAdjust="spacingAndGlyphs" >0</text>
<text x="81.90" y="327.50" font-size="10" font-weight="bold" text-anchor="middle" fill="#000" textLength="11" lengthAdjust="spacingAndGlyphs" >10</text>
<text x="113.40" y="327.50" font-size="10" font-weight="bold" text-anchor="middle" fill="#000" textLength="11" lengthAdjust="spacingAndGlyphs" >20</text>
<text x="144.90" y="327.50" font-size="10" font-weight="bold" text-anchor="middle" fill="#000" textLength="11" lengthAdjust="spacingAndGlyphs" >30</text>
<text x="176.40" y="327.50" font-size="10" font-weight="bold" text-anchor="middle" fill="#000" textLength="11" lengthAdjust="spacingAndGlyphs" >40</text>
<text x="207.90" y="327.50" font-size="10" font-weight="bold" text-anchor="middle" fill="#000" textLength="11" lengthAdjust="spacingAndGlyphs" >50</text>
<text x="239.40" y="327.50" font-size="10" font-weight="bold" text-anchor="middle" fill="#000" textLength="11" lengthAdjust="spacingAndGlyphs" >60</text>
<text x="105.00" y="341.60" font-size="12" font-weight="bold" text-anchor="start" fill="#000" textLength="79.6" lengthAdjust="spacingAndGlyphs" >Cycle Number</text>
<text transform="translate(21.6,251.8) rotate(-90)" font-size="12.3" font-weight="bold" text-anchor="middle" textLength="103" lengthAdjust="spacingAndGlyphs" xml:space="preserve">Capacity (mAhg<tspan font-size="7.5" dy="-7.2">-1</tspan><tspan dy="7.2"> )</tspan></text>
<text x="54.50" y="194.30" font-size="22" font-weight="bold" text-anchor="start" fill="#000" textLength="10.5" lengthAdjust="spacingAndGlyphs" >c</text>
<line x1="135.60" y1="190.60" x2="150.00" y2="190.60" stroke="#333" stroke-width="0.8" />
<circle cx="142.8" cy="190.6" r="2.1" fill="#000"/>
<text x="153.50" y="193.40" font-size="10" font-weight="bold" text-anchor="start" fill="#000" textLength="67" lengthAdjust="spacingAndGlyphs" >Charge capacity</text>
<line x1="135.60" y1="204.20" x2="150.00" y2="204.20" stroke="#ff5050" stroke-width="0.8" />
<circle cx="142.8" cy="204.2" r="2.1" fill="#ff0000"/>
<text x="153.50" y="207.00" font-size="10" font-weight="bold" text-anchor="start" fill="#000" textLength="79" lengthAdjust="spacingAndGlyphs" >Discharge capacity</text>
<defs><clipPath id="clipc"><rect x="50.4" y="177.6" width="189" height="135.7"/></clipPath></defs><g clip-path="url(#clipc)">
<polyline points="56.70,219.70 59.85,235.03 63.00,249.54 66.15,251.58 69.30,252.94 72.45,253.89 75.60,254.70 78.75,255.24 81.90,255.65 85.05,256.87 88.20,267.99 91.35,268.07 94.50,268.16 97.65,268.24 100.80,268.32 103.95,268.40 107.10,268.48 110.25,268.56 113.40,268.64 116.55,268.40 119.70,272.20 122.85,272.27 126.00,272.33 129.15,272.40 132.30,272.47 135.45,272.54 138.60,272.61 141.75,272.67 144.90,272.74 148.05,272.61 151.20,276.95 154.35,276.95 157.50,276.95 160.65,276.95 163.80,276.95 166.95,276.95 170.10,276.95 173.25,276.95 176.40,276.95 179.55,277.35 182.70,283.59 185.85,283.59 189.00,283.59 192.15,283.59 195.30,283.59 198.45,283.59 201.60,283.59 204.75,283.59 207.90,283.59 211.05,283.32 214.20,262.97 217.35,261.48 220.50,260.53 223.65,259.85 226.80,259.31 229.95,258.90 233.10,258.63 236.25,258.36 239.40,258.23" fill="none" stroke="#666" stroke-width="0.5"/>
<polyline points="56.70,238.56 59.85,244.12 63.00,247.51 66.15,249.95 69.30,251.44 72.45,252.53 75.60,252.53 78.75,252.66 81.90,253.07 85.05,263.38 88.20,265.82 91.35,266.91 94.50,267.02 97.65,267.12 100.80,267.23 103.95,267.34 107.10,267.45 110.25,267.56 113.40,267.67 116.55,270.16 119.70,271.52 122.85,271.57 126.00,271.63 129.15,271.68 132.30,271.74 135.45,271.79 138.60,271.85 141.75,271.90 144.90,271.95 148.05,274.91 151.20,276.40 154.35,276.44 157.50,276.48 160.65,276.53 163.80,276.57 166.95,276.61 170.10,276.65 173.25,276.69 176.40,276.73 179.55,281.42 182.70,282.91 185.85,282.91 189.00,282.91 192.15,282.91 195.30,282.91 198.45,282.91 201.60,282.91 204.75,282.91 207.90,282.91 211.05,265.01 214.20,258.70 217.35,257.82 220.50,257.20 223.65,256.80 226.80,256.50 229.95,256.33 233.10,256.10 236.25,256.00 239.40,255.92" fill="none" stroke="#ff6060" stroke-width="0.6"/>
<circle cx="56.70" cy="219.70" r="2.6" fill="#000"/>
<circle cx="59.85" cy="235.03" r="2.6" fill="#000"/>
<circle cx="63.00" cy="249.54" r="2.6" fill="#000"/>
<circle cx="66.15" cy="251.58" r="2.6" fill="#000"/>
<circle cx="69.30" cy="252.94" r="2.6" fill="#000"/>
<circle cx="72.45" cy="253.89" r="2.6" fill="#000"/>
<circle cx="75.60" cy="254.70" r="2.6" fill="#000"/>
<circle cx="78.75" cy="255.24" r="2.6" fill="#000"/>
<circle cx="81.90" cy="255.65" r="2.6" fill="#000"/>
<circle cx="85.05" cy="256.87" r="2.6" fill="#000"/>
<circle cx="88.20" cy="267.99" r="2.6" fill="#000"/>
<circle cx="91.35" cy="268.07" r="2.6" fill="#000"/>
<circle cx="94.50" cy="268.16" r="2.6" fill="#000"/>
<circle cx="97.65" cy="268.24" r="2.6" fill="#000"/>
<circle cx="100.80" cy="268.32" r="2.6" fill="#000"/>
<circle cx="103.95" cy="268.40" r="2.6" fill="#000"/>
<circle cx="107.10" cy="268.48" r="2.6" fill="#000"/>
<circle cx="110.25" cy="268.56" r="2.6" fill="#000"/>
<circle cx="113.40" cy="268.64" r="2.6" fill="#000"/>
<circle cx="116.55" cy="268.40" r="2.6" fill="#000"/>
<circle cx="119.70" cy="272.20" r="2.6" fill="#000"/>
<circle cx="122.85" cy="272.27" r="2.6" fill="#000"/>
<circle cx="126.00" cy="272.33" r="2.6" fill="#000"/>
<circle cx="129.15" cy="272.40" r="2.6" fill="#000"/>
<circle cx="132.30" cy="272.47" r="2.6" fill="#000"/>
<circle cx="135.45" cy="272.54" r="2.6" fill="#000"/>
<circle cx="138.60" cy="272.61" r="2.6" fill="#000"/>
<circle cx="141.75" cy="272.67" r="2.6" fill="#000"/>
<circle cx="144.90" cy="272.74" r="2.6" fill="#000"/>
<circle cx="148.05" cy="272.61" r="2.6" fill="#000"/>
<circle cx="151.20" cy="276.95" r="2.6" fill="#000"/>
<circle cx="154.35" cy="276.95" r="2.6" fill="#000"/>
<circle cx="157.50" cy="276.95" r="2.6" fill="#000"/>
<circle cx="160.65" cy="276.95" r="2.6" fill="#000"/>
<circle cx="163.80" cy="276.95" r="2.6" fill="#000"/>
<circle cx="166.95" cy="276.95" r="2.6" fill="#000"/>
<circle cx="170.10" cy="276.95" r="2.6" fill="#000"/>
<circle cx="173.25" cy="276.95" r="2.6" fill="#000"/>
<circle cx="176.40" cy="276.95" r="2.6" fill="#000"/>
<circle cx="179.55" cy="277.35" r="2.6" fill="#000"/>
<circle cx="182.70" cy="283.59" r="2.6" fill="#000"/>
<circle cx="185.85" cy="283.59" r="2.6" fill="#000"/>
<circle cx="189.00" cy="283.59" r="2.6" fill="#000"/>
<circle cx="192.15" cy="283.59" r="2.6" fill="#000"/>
<circle cx="195.30" cy="283.59" r="2.6" fill="#000"/>
<circle cx="198.45" cy="283.59" r="2.6" fill="#000"/>
<circle cx="201.60" cy="283.59" r="2.6" fill="#000"/>
<circle cx="204.75" cy="283.59" r="2.6" fill="#000"/>
<circle cx="207.90" cy="283.59" r="2.6" fill="#000"/>
<circle cx="211.05" cy="283.32" r="2.6" fill="#000"/>
<circle cx="214.20" cy="262.97" r="2.6" fill="#000"/>
<circle cx="217.35" cy="261.48" r="2.6" fill="#000"/>
<circle cx="220.50" cy="260.53" r="2.6" fill="#000"/>
<circle cx="223.65" cy="259.85" r="2.6" fill="#000"/>
<circle cx="226.80" cy="259.31" r="2.6" fill="#000"/>
<circle cx="229.95" cy="258.90" r="2.6" fill="#000"/>
<circle cx="233.10" cy="258.63" r="2.6" fill="#000"/>
<circle cx="236.25" cy="258.36" r="2.6" fill="#000"/>
<circle cx="239.40" cy="258.23" r="2.6" fill="#000"/>
<circle cx="56.70" cy="238.56" r="2.6" fill="#ff0000"/>
<circle cx="59.85" cy="244.12" r="2.6" fill="#ff0000"/>
<circle cx="63.00" cy="247.51" r="2.6" fill="#ff0000"/>
<circle cx="66.15" cy="249.95" r="2.6" fill="#ff0000"/>
<circle cx="69.30" cy="251.44" r="2.6" fill="#ff0000"/>
<circle cx="72.45" cy="252.53" r="2.6" fill="#ff0000"/>
<circle cx="75.60" cy="252.53" r="2.6" fill="#ff0000"/>
<circle cx="78.75" cy="252.66" r="2.6" fill="#ff0000"/>
<circle cx="81.90" cy="253.07" r="2.6" fill="#ff0000"/>
<circle cx="85.05" cy="263.38" r="2.6" fill="#ff0000"/>
<circle cx="88.20" cy="265.82" r="2.6" fill="#ff0000"/>
<circle cx="91.35" cy="266.91" r="2.6" fill="#ff0000"/>
<circle cx="94.50" cy="267.02" r="2.6" fill="#ff0000"/>
<circle cx="97.65" cy="267.12" r="2.6" fill="#ff0000"/>
<circle cx="100.80" cy="267.23" r="2.6" fill="#ff0000"/>
<circle cx="103.95" cy="267.34" r="2.6" fill="#ff0000"/>
<circle cx="107.10" cy="267.45" r="2.6" fill="#ff0000"/>
<circle cx="110.25" cy="267.56" r="2.6" fill="#ff0000"/>
<circle cx="113.40" cy="267.67" r="2.6" fill="#ff0000"/>
<circle cx="116.55" cy="270.16" r="2.6" fill="#ff0000"/>
<circle cx="119.70" cy="271.52" r="2.6" fill="#ff0000"/>
<circle cx="122.85" cy="271.57" r="2.6" fill="#ff0000"/>
<circle cx="126.00" cy="271.63" r="2.6" fill="#ff0000"/>
<circle cx="129.15" cy="271.68" r="2.6" fill="#ff0000"/>
<circle cx="132.30" cy="271.74" r="2.6" fill="#ff0000"/>
<circle cx="135.45" cy="271.79" r="2.6" fill="#ff0000"/>
<circle cx="138.60" cy="271.85" r="2.6" fill="#ff0000"/>
<circle cx="141.75" cy="271.90" r="2.6" fill="#ff0000"/>
<circle cx="144.90" cy="271.95" r="2.6" fill="#ff0000"/>
<circle cx="148.05" cy="274.91" r="2.6" fill="#ff0000"/>
<circle cx="151.20" cy="276.40" r="2.6" fill="#ff0000"/>
<circle cx="154.35" cy="276.44" r="2.6" fill="#ff0000"/>
<circle cx="157.50" cy="276.48" r="2.6" fill="#ff0000"/>
<circle cx="160.65" cy="276.53" r="2.6" fill="#ff0000"/>
<circle cx="163.80" cy="276.57" r="2.6" fill="#ff0000"/>
<circle cx="166.95" cy="276.61" r="2.6" fill="#ff0000"/>
<circle cx="170.10" cy="276.65" r="2.6" fill="#ff0000"/>
<circle cx="173.25" cy="276.69" r="2.6" fill="#ff0000"/>
<circle cx="176.40" cy="276.73" r="2.6" fill="#ff0000"/>
<circle cx="179.55" cy="281.42" r="2.6" fill="#ff0000"/>
<circle cx="182.70" cy="282.91" r="2.6" fill="#ff0000"/>
<circle cx="185.85" cy="282.91" r="2.6" fill="#ff0000"/>
<circle cx="189.00" cy="282.91" r="2.6" fill="#ff0000"/>
<circle cx="192.15" cy="282.91" r="2.6" fill="#ff0000"/>
<circle cx="195.30" cy="282.91" r="2.6" fill="#ff0000"/>
<circle cx="198.45" cy="282.91" r="2.6" fill="#ff0000"/>
<circle cx="201.60" cy="282.91" r="2.6" fill="#ff0000"/>
<circle cx="204.75" cy="282.91" r="2.6" fill="#ff0000"/>
<circle cx="207.90" cy="282.91" r="2.6" fill="#ff0000"/>
<circle cx="211.05" cy="265.01" r="2.6" fill="#ff0000"/>
<circle cx="214.20" cy="258.70" r="2.6" fill="#ff0000"/>
<circle cx="217.35" cy="257.82" r="2.6" fill="#ff0000"/>
<circle cx="220.50" cy="257.20" r="2.6" fill="#ff0000"/>
<circle cx="223.65" cy="256.80" r="2.6" fill="#ff0000"/>
<circle cx="226.80" cy="256.50" r="2.6" fill="#ff0000"/>
<circle cx="229.95" cy="256.33" r="2.6" fill="#ff0000"/>
<circle cx="233.10" cy="256.10" r="2.6" fill="#ff0000"/>
<circle cx="236.25" cy="256.00" r="2.6" fill="#ff0000"/>
<circle cx="239.40" cy="255.92" r="2.6" fill="#ff0000"/>
</g>
<rect x="281.30" y="178.30" width="187.70" height="138.20" fill="none" stroke="#000" stroke-width="1.3"/>
<line x1="281.30" y1="306.20" x2="277.30" y2="306.20" stroke="#000" stroke-width="1.2" />
<line x1="281.30" y1="286.55" x2="277.30" y2="286.55" stroke="#000" stroke-width="1.2" />
<line x1="281.30" y1="266.90" x2="277.30" y2="266.90" stroke="#000" stroke-width="1.2" />
<line x1="281.30" y1="247.25" x2="277.30" y2="247.25" stroke="#000" stroke-width="1.2" />
<line x1="281.30" y1="227.60" x2="277.30" y2="227.60" stroke="#000" stroke-width="1.2" />
<line x1="281.30" y1="207.95" x2="277.30" y2="207.95" stroke="#000" stroke-width="1.2" />
<line x1="281.30" y1="188.30" x2="277.30" y2="188.30" stroke="#000" stroke-width="1.2" />
<line x1="281.30" y1="296.38" x2="279.10" y2="296.38" stroke="#000" stroke-width="1.2" />
<line x1="281.30" y1="276.72" x2="279.10" y2="276.72" stroke="#000" stroke-width="1.2" />
<line x1="281.30" y1="257.07" x2="279.10" y2="257.07" stroke="#000" stroke-width="1.2" />
<line x1="281.30" y1="237.43" x2="279.10" y2="237.43" stroke="#000" stroke-width="1.2" />
<line x1="281.30" y1="217.77" x2="279.10" y2="217.77" stroke="#000" stroke-width="1.2" />
<line x1="281.30" y1="198.12" x2="279.10" y2="198.12" stroke="#000" stroke-width="1.2" />
<line x1="281.30" y1="178.47" x2="279.10" y2="178.47" stroke="#000" stroke-width="1.2" />
<text x="275.60" y="309.70" font-size="10" font-weight="bold" text-anchor="end" fill="#000" textLength="14.3" lengthAdjust="spacingAndGlyphs" >0.0</text>
<text x="275.60" y="290.05" font-size="10" font-weight="bold" text-anchor="end" fill="#000" textLength="14.3" lengthAdjust="spacingAndGlyphs" >0.5</text>
<text x="275.60" y="270.40" font-size="10" font-weight="bold" text-anchor="end" fill="#000" textLength="14.3" lengthAdjust="spacingAndGlyphs" >1.0</text>
<text x="275.60" y="250.75" font-size="10" font-weight="bold" text-anchor="end" fill="#000" textLength="14.3" lengthAdjust="spacingAndGlyphs" >1.5</text>
<text x="275.60" y="231.10" font-size="10" font-weight="bold" text-anchor="end" fill="#000" textLength="14.3" lengthAdjust="spacingAndGlyphs" >2.0</text>
<text x="275.60" y="211.45" font-size="10" font-weight="bold" text-anchor="end" fill="#000" textLength="14.3" lengthAdjust="spacingAndGlyphs" >2.5</text>
<text x="275.60" y="191.80" font-size="10" font-weight="bold" text-anchor="end" fill="#000" textLength="14.3" lengthAdjust="spacingAndGlyphs" >3.0</text>
<line x1="295.60" y1="316.50" x2="295.60" y2="320.50" stroke="#000" stroke-width="1.2" />
<line x1="324.60" y1="316.50" x2="324.60" y2="320.50" stroke="#000" stroke-width="1.2" />
<line x1="353.60" y1="316.50" x2="353.60" y2="320.50" stroke="#000" stroke-width="1.2" />
<line x1="382.60" y1="316.50" x2="382.60" y2="320.50" stroke="#000" stroke-width="1.2" />
<line x1="411.60" y1="316.50" x2="411.60" y2="320.50" stroke="#000" stroke-width="1.2" />
<line x1="440.60" y1="316.50" x2="440.60" y2="320.50" stroke="#000" stroke-width="1.2" />
<line x1="469.60" y1="316.50" x2="469.60" y2="320.50" stroke="#000" stroke-width="1.2" />
<line x1="281.10" y1="316.50" x2="281.10" y2="318.70" stroke="#000" stroke-width="1.2" />
<line x1="310.10" y1="316.50" x2="310.10" y2="318.70" stroke="#000" stroke-width="1.2" />
<line x1="339.10" y1="316.50" x2="339.10" y2="318.70" stroke="#000" stroke-width="1.2" />
<line x1="368.10" y1="316.50" x2="368.10" y2="318.70" stroke="#000" stroke-width="1.2" />
<line x1="397.10" y1="316.50" x2="397.10" y2="318.70" stroke="#000" stroke-width="1.2" />
<line x1="426.10" y1="316.50" x2="426.10" y2="318.70" stroke="#000" stroke-width="1.2" />
<line x1="455.10" y1="316.50" x2="455.10" y2="318.70" stroke="#000" stroke-width="1.2" />
<text x="295.60" y="331.20" font-size="10" font-weight="bold" text-anchor="middle" fill="#000" textLength="5.6" lengthAdjust="spacingAndGlyphs" >0</text>
<text x="324.60" y="331.20" font-size="10" font-weight="bold" text-anchor="middle" fill="#000" textLength="17" lengthAdjust="spacingAndGlyphs" >100</text>
<text x="353.60" y="331.20" font-size="10" font-weight="bold" text-anchor="middle" fill="#000" textLength="17" lengthAdjust="spacingAndGlyphs" >200</text>
<text x="382.60" y="331.20" font-size="10" font-weight="bold" text-anchor="middle" fill="#000" textLength="17" lengthAdjust="spacingAndGlyphs" >300</text>
<text x="411.60" y="331.20" font-size="10" font-weight="bold" text-anchor="middle" fill="#000" textLength="17" lengthAdjust="spacingAndGlyphs" >400</text>
<text x="440.60" y="331.20" font-size="10" font-weight="bold" text-anchor="middle" fill="#000" textLength="17" lengthAdjust="spacingAndGlyphs" >500</text>
<text x="469.60" y="331.20" font-size="10" font-weight="bold" text-anchor="middle" fill="#000" textLength="17" lengthAdjust="spacingAndGlyphs" >600</text>
<text x="329.3" y="344" font-size="12.3" font-weight="bold" textLength="98" lengthAdjust="spacingAndGlyphs" xml:space="preserve">Capacity (mAhg<tspan font-size="7.5" dy="-7.2">-1</tspan><tspan dy="7.2"> )</tspan></text>
<text transform="translate(256.00,249.00) rotate(-90)" x="0" y="0" font-size="12.3" font-weight="bold" text-anchor="middle" textLength="63" lengthAdjust="spacingAndGlyphs">Voltage (V)</text>
<text x="286.40" y="197.00" font-size="22" font-weight="bold" text-anchor="start" fill="#000" textLength="12.5" lengthAdjust="spacingAndGlyphs" >d</text>
<line x1="420.20" y1="217.00" x2="436.30" y2="217.00" stroke="#ff2020" stroke-width="1.3" />
<text x="440.50" y="220.30" font-size="9.2" font-weight="bold" text-anchor="start" fill="#000" textLength="23" lengthAdjust="spacingAndGlyphs" xml:space="preserve">2   nd</text>
<line x1="420.20" y1="230.65" x2="436.30" y2="230.65" stroke="#0000ee" stroke-width="1.3" />
<text x="438.60" y="233.95" font-size="9.2" font-weight="bold" text-anchor="start" fill="#000" textLength="26" lengthAdjust="spacingAndGlyphs" xml:space="preserve">100 th</text>
<line x1="420.20" y1="244.30" x2="436.30" y2="244.30" stroke="#00ee00" stroke-width="1.3" />
<text x="438.60" y="247.60" font-size="9.2" font-weight="bold" text-anchor="start" fill="#000" textLength="26" lengthAdjust="spacingAndGlyphs" xml:space="preserve">200 th</text>
<line x1="420.20" y1="257.95" x2="436.30" y2="257.95" stroke="#ffa050" stroke-width="1.3" />
<text x="438.60" y="261.25" font-size="9.2" font-weight="bold" text-anchor="start" fill="#000" textLength="26" lengthAdjust="spacingAndGlyphs" xml:space="preserve">300 th</text>
<line x1="420.20" y1="271.60" x2="436.30" y2="271.60" stroke="#ff00ff" stroke-width="1.3" />
<text x="438.60" y="274.90" font-size="9.2" font-weight="bold" text-anchor="start" fill="#000" textLength="26" lengthAdjust="spacingAndGlyphs" xml:space="preserve">400 th</text>
<line x1="420.20" y1="285.25" x2="436.30" y2="285.25" stroke="#008800" stroke-width="1.3" />
<text x="438.60" y="288.55" font-size="9.2" font-weight="bold" text-anchor="start" fill="#000" textLength="26" lengthAdjust="spacingAndGlyphs" xml:space="preserve">500 th</text>
<path d="M295.20,305.02 C295.59,303.91 296.55,300.63 297.52,298.34 C298.49,296.05 299.31,294.02 301.00,291.27 C302.69,288.51 305.25,284.98 307.67,281.83 C310.09,278.69 312.26,275.55 315.50,272.40 C318.74,269.26 323.72,265.98 327.10,262.97 C330.48,259.96 332.66,257.34 335.80,254.32 C338.94,251.31 342.57,247.91 345.95,244.89 C349.33,241.88 352.43,239.13 356.10,236.25 C359.77,233.36 363.74,231.01 367.99,227.60 C372.24,224.19 377.37,219.48 381.62,215.81 C385.87,212.14 389.55,208.74 393.51,205.59 C397.47,202.45 401.82,199.17 405.40,196.95 C408.98,194.72 411.68,193.67 414.97,192.23 C418.26,190.79 423.43,188.96 425.12,188.30" fill="none" stroke="#ff2020" stroke-width="1.1" stroke-linejoin="round" stroke-linecap="round" />
<path d="M295.20,196.95 C295.51,198.85 296.41,204.54 297.09,208.34 C297.76,212.14 298.22,216.14 299.26,219.74 C300.30,223.34 301.70,226.81 303.32,229.96 C304.94,233.10 307.24,235.98 308.98,238.60 C310.72,241.22 311.32,242.27 313.76,245.68 C316.20,249.08 321.01,255.76 323.62,259.04 C326.23,262.31 327.54,263.43 329.42,265.33 C331.31,267.23 332.90,268.73 334.93,270.44 C336.96,272.14 339.18,273.97 341.60,275.55 C344.02,277.12 347.11,278.56 349.43,279.87 C351.75,281.18 352.48,281.77 355.52,283.41 C358.57,285.04 363.40,287.73 367.70,289.69 C372.00,291.66 376.98,293.69 381.33,295.20 C385.68,296.70 389.45,297.62 393.80,298.73 C398.15,299.85 402.11,300.96 407.43,301.88 C412.75,302.79 419.42,303.61 425.70,304.24 C431.98,304.86 441.89,305.38 445.13,305.61" fill="none" stroke="#ff2020" stroke-width="1.1" stroke-linejoin="round" stroke-linecap="round" />
<path d="M295.90,305.02 C296.09,304.43 296.64,302.73 297.06,301.48 C297.47,300.24 297.87,298.86 298.39,297.55 C298.92,296.24 299.59,294.93 300.22,293.62 C300.86,292.31 301.29,291.20 302.20,289.69 C303.11,288.19 304.49,286.29 305.66,284.58 C306.84,282.88 307.78,281.51 309.25,279.48 C310.72,277.45 312.58,274.69 314.48,272.40 C316.37,270.11 318.39,267.95 320.62,265.72 C322.84,263.49 325.22,261.40 327.83,259.04 C330.43,256.68 333.50,253.93 336.24,251.57 C338.98,249.21 341.02,247.58 344.26,244.89 C347.50,242.21 352.09,238.28 355.69,235.46 C359.30,232.64 363.13,230.15 365.89,227.99 C368.66,225.83 370.08,224.52 372.30,222.49 C374.53,220.46 377.07,217.91 379.25,215.81 C381.44,213.71 383.51,211.62 385.41,209.91 C387.31,208.21 388.41,207.36 390.66,205.59 C392.91,203.82 396.77,200.88 398.90,199.30 C401.03,197.73 401.93,197.14 403.46,196.16 C404.98,195.18 406.56,194.26 408.05,193.41 C409.55,192.56 410.78,191.90 412.41,191.05 C414.05,190.20 416.94,188.76 417.85,188.30" fill="none" stroke="#ffa050" stroke-width="1.0" stroke-linejoin="round" stroke-linecap="round" />
<path d="M295.90,196.95 C296.21,198.85 297.11,204.54 297.79,208.34 C298.46,212.14 298.92,216.14 299.96,219.74 C301.00,223.34 302.39,226.75 304.02,229.96 C305.65,233.17 307.97,236.25 309.73,239.00 C311.49,241.75 312.97,244.11 314.58,246.46 C316.19,248.82 317.73,250.85 319.39,253.14 C321.05,255.44 322.69,257.93 324.54,260.22 C326.38,262.51 328.49,264.74 330.46,266.90 C332.43,269.06 334.09,270.96 336.35,273.19 C338.61,275.41 341.30,278.03 344.00,280.26 C346.70,282.49 350.09,284.91 352.57,286.55 C355.04,288.19 356.21,288.78 358.85,290.09 C361.49,291.40 365.24,293.10 368.42,294.41 C371.60,295.72 374.66,296.90 377.94,297.95 C381.22,299.00 384.49,299.85 388.08,300.70 C391.68,301.55 395.85,302.40 399.52,303.06 C403.19,303.71 406.72,304.20 410.11,304.63 C413.50,305.05 418.22,305.45 419.85,305.61" fill="none" stroke="#ffa050" stroke-width="1.0" stroke-linejoin="round" stroke-linecap="round" />
<path d="M296.40,305.02 C296.60,304.43 297.15,302.73 297.58,301.48 C298.01,300.24 298.42,298.86 298.96,297.55 C299.50,296.24 300.16,294.93 300.82,293.62 C301.47,292.31 301.96,291.20 302.89,289.69 C303.82,288.19 305.20,286.29 306.40,284.58 C307.60,282.88 308.56,281.51 310.08,279.48 C311.60,277.45 313.48,274.69 315.51,272.40 C317.54,270.11 319.95,267.95 322.29,265.72 C324.63,263.49 326.97,261.40 329.54,259.04 C332.11,256.68 335.07,253.93 337.73,251.57 C340.39,249.21 342.31,247.58 345.50,244.89 C348.69,242.21 353.27,238.28 356.87,235.46 C360.47,232.64 364.32,230.15 367.09,227.99 C369.87,225.83 371.24,224.52 373.51,222.49 C375.78,220.46 378.44,217.91 380.70,215.81 C382.96,213.71 385.15,211.62 387.07,209.91 C389.00,208.21 390.00,207.36 392.26,205.59 C394.52,203.82 398.45,200.88 400.62,199.30 C402.79,197.73 403.68,197.14 405.27,196.16 C406.86,195.18 408.57,194.26 410.17,193.41 C411.77,192.56 413.09,191.90 414.86,191.05 C416.64,190.20 419.82,188.76 420.81,188.30" fill="none" stroke="#ff00ff" stroke-width="1.1" stroke-linejoin="round" stroke-linecap="round" />
<path d="M296.40,196.95 C296.71,198.85 297.61,204.54 298.29,208.34 C298.96,212.14 299.42,216.14 300.46,219.74 C301.50,223.34 302.89,226.75 304.52,229.96 C306.15,233.17 308.48,236.25 310.25,239.00 C312.01,241.75 313.50,244.11 315.12,246.46 C316.73,248.82 318.28,250.85 319.94,253.14 C321.61,255.44 323.26,257.93 325.11,260.22 C326.97,262.51 329.08,264.74 331.08,266.90 C333.08,269.06 334.76,270.96 337.10,273.19 C339.44,275.41 342.29,278.03 345.10,280.26 C347.90,282.49 351.39,284.91 353.92,286.55 C356.45,288.19 357.60,288.78 360.27,290.09 C362.94,291.40 366.71,293.10 369.94,294.41 C373.17,295.72 376.32,296.90 379.64,297.95 C382.97,299.00 386.24,299.85 389.89,300.70 C393.54,301.55 397.80,302.40 401.57,303.06 C405.34,303.71 409.01,304.20 412.52,304.63 C416.03,305.05 420.94,305.45 422.62,305.61" fill="none" stroke="#ff00ff" stroke-width="1.1" stroke-linejoin="round" stroke-linecap="round" />
<path d="M296.00,305.02 C296.19,304.43 296.73,302.73 297.14,301.48 C297.54,300.24 297.92,298.86 298.44,297.55 C298.95,296.24 299.62,294.93 300.23,293.62 C300.85,292.31 301.25,291.20 302.13,289.69 C303.02,288.19 304.40,286.29 305.55,284.58 C306.71,282.88 307.63,281.51 309.06,279.48 C310.48,277.45 312.34,274.69 314.11,272.40 C315.88,270.11 317.55,267.95 319.68,265.72 C321.80,263.49 324.22,261.40 326.85,259.04 C329.48,256.68 332.65,253.93 335.46,251.57 C338.27,249.21 340.42,247.58 343.70,244.89 C346.99,242.21 351.58,238.28 355.19,235.46 C358.81,232.64 362.62,230.15 365.38,227.99 C368.14,225.83 369.59,224.52 371.78,222.49 C373.97,220.46 376.40,217.91 378.52,215.81 C380.63,213.71 382.60,211.62 384.48,209.91 C386.36,208.21 387.55,207.36 389.79,205.59 C392.03,203.82 395.82,200.88 397.92,199.30 C400.02,197.73 400.93,197.14 402.40,196.16 C403.87,195.18 405.33,194.26 406.73,193.41 C408.13,192.56 409.29,191.90 410.80,191.05 C412.30,190.20 414.94,188.76 415.77,188.30" fill="none" stroke="#00ee00" stroke-width="1.1" stroke-linejoin="round" stroke-linecap="round" />
<path d="M296.00,196.95 C296.31,198.85 297.21,204.54 297.88,208.34 C298.56,212.14 299.02,216.14 300.06,219.74 C301.10,223.34 302.50,226.75 304.12,229.96 C305.74,233.17 308.05,236.25 309.80,239.00 C311.55,241.75 313.01,244.11 314.62,246.46 C316.22,248.82 317.77,250.85 319.42,253.14 C321.07,255.44 322.70,257.93 324.53,260.22 C326.36,262.51 328.46,264.74 330.39,266.90 C332.32,269.06 333.95,270.96 336.09,273.19 C338.23,275.41 340.69,278.03 343.25,280.26 C345.81,282.49 349.05,284.91 351.45,286.55 C353.85,288.19 355.03,288.78 357.64,290.09 C360.24,291.40 363.95,293.10 367.06,294.41 C370.17,295.72 373.10,296.90 376.31,297.95 C379.52,299.00 382.80,299.85 386.32,300.70 C389.83,301.55 393.87,302.40 397.40,303.06 C400.93,303.71 404.26,304.20 407.48,304.63 C410.70,305.05 415.16,305.45 416.70,305.61" fill="none" stroke="#00ee00" stroke-width="1.1" stroke-linejoin="round" stroke-linecap="round" />
<path d="M295.80,305.02 C295.98,304.43 296.52,302.73 296.91,301.48 C297.30,300.24 297.64,298.86 298.14,297.55 C298.64,296.24 299.30,294.93 299.89,293.62 C300.48,292.31 300.80,291.20 301.66,289.69 C302.51,288.19 303.89,286.29 305.00,284.58 C306.12,282.88 307.01,281.51 308.37,279.48 C309.72,277.45 311.56,274.69 313.12,272.40 C314.69,270.11 315.79,267.95 317.75,265.72 C319.71,263.49 322.19,261.40 324.87,259.04 C327.54,256.68 330.87,253.93 333.79,251.57 C336.72,249.21 339.05,247.58 342.42,244.89 C345.79,242.21 350.38,238.28 354.00,235.46 C357.62,232.64 361.40,230.15 364.15,227.99 C366.91,225.83 368.41,224.52 370.54,222.49 C372.67,220.46 374.92,217.91 376.93,215.81 C378.93,213.71 380.72,211.62 382.56,209.91 C384.41,208.21 385.75,207.36 387.98,205.59 C390.20,203.82 393.87,200.88 395.92,199.30 C397.97,197.73 398.90,197.14 400.28,196.16 C401.65,195.18 402.91,194.26 404.15,193.41 C405.40,192.56 406.43,191.90 407.73,191.05 C409.03,190.20 411.24,188.76 411.94,188.30" fill="none" stroke="#0000ee" stroke-width="1.0" stroke-linejoin="round" stroke-linecap="round" />
<path d="M295.80,196.95 C296.11,198.85 297.01,204.54 297.69,208.34 C298.36,212.14 298.82,216.14 299.86,219.74 C300.90,223.34 302.30,226.75 303.92,229.96 C305.54,233.17 307.84,236.25 309.59,239.00 C311.33,241.75 312.79,244.11 314.39,246.46 C315.99,248.82 317.54,250.85 319.19,253.14 C320.83,255.44 322.45,257.93 324.27,260.22 C326.09,262.51 328.20,264.74 330.10,266.90 C332.01,269.06 333.62,270.96 335.71,273.19 C337.80,275.41 340.14,278.03 342.63,280.26 C345.11,282.49 348.28,284.91 350.64,286.55 C353.00,288.19 354.20,288.78 356.78,290.09 C359.36,291.40 363.05,293.10 366.13,294.41 C369.21,295.72 372.08,296.90 375.25,297.95 C378.43,299.00 381.71,299.85 385.18,300.70 C388.66,301.55 392.63,302.40 396.09,303.06 C399.54,303.71 402.78,304.20 405.92,304.63 C409.05,305.05 413.38,305.45 414.87,305.61" fill="none" stroke="#0000ee" stroke-width="1.0" stroke-linejoin="round" stroke-linecap="round" />
<path d="M295.60,305.02 C295.78,304.43 296.31,302.73 296.70,301.48 C297.09,300.24 297.43,298.86 297.92,297.55 C298.41,296.24 299.08,294.93 299.66,293.62 C300.24,292.31 300.55,291.20 301.40,289.69 C302.25,288.19 303.62,286.29 304.74,284.58 C305.85,282.88 306.73,281.51 308.07,279.48 C309.41,277.45 311.25,274.69 312.77,272.40 C314.29,270.11 315.28,267.95 317.21,265.72 C319.13,263.49 321.63,261.40 324.31,259.04 C326.99,256.68 330.35,253.93 333.30,251.57 C336.25,249.21 338.62,247.58 342.00,244.89 C345.38,242.21 349.98,238.28 353.60,235.46 C357.23,232.64 361.00,230.15 363.75,227.99 C366.50,225.83 368.01,224.52 370.13,222.49 C372.25,220.46 374.46,217.91 376.45,215.81 C378.43,213.71 380.19,211.62 382.02,209.91 C383.85,208.21 385.23,207.36 387.45,205.59 C389.68,203.82 393.32,200.88 395.36,199.30 C397.40,197.73 398.34,197.14 399.69,196.16 C401.04,195.18 402.27,194.26 403.48,193.41 C404.69,192.56 405.70,191.90 406.96,191.05 C408.22,190.20 410.34,188.76 411.02,188.30" fill="none" stroke="#008800" stroke-width="1.2" stroke-linejoin="round" stroke-linecap="round" />
<path d="M295.60,196.95 C295.91,198.85 296.81,204.54 297.49,208.34 C298.16,212.14 298.62,216.14 299.66,219.74 C300.70,223.34 302.10,226.75 303.72,229.96 C305.34,233.17 307.63,236.25 309.38,239.00 C311.12,241.75 312.56,244.11 314.16,246.46 C315.76,248.82 317.31,250.85 318.95,253.14 C320.59,255.44 322.21,257.93 324.02,260.22 C325.83,262.51 327.94,264.74 329.82,266.90 C331.71,269.06 333.30,270.96 335.33,273.19 C337.36,275.41 339.58,278.03 342.00,280.26 C344.42,282.49 347.51,284.91 349.83,286.55 C352.15,288.19 353.36,288.78 355.92,290.09 C358.48,291.40 362.16,293.10 365.20,294.41 C368.25,295.72 371.05,296.90 374.19,297.95 C377.33,299.00 380.62,299.85 384.05,300.70 C387.48,301.55 391.40,302.40 394.78,303.06 C398.16,303.71 401.31,304.20 404.35,304.63 C407.40,305.05 411.60,305.45 413.05,305.61" fill="none" stroke="#008800" stroke-width="1.2" stroke-linejoin="round" stroke-linecap="round" />
<rect x="58.50" y="352.90" width="397.20" height="140.00" fill="none" stroke="#000" stroke-width="1.5"/>
<line x1="58.50" y1="493.00" x2="53.50" y2="493.00" stroke="#000" stroke-width="1.4" />
<line x1="58.50" y1="457.96" x2="53.50" y2="457.96" stroke="#000" stroke-width="1.4" />
<line x1="58.50" y1="422.92" x2="53.50" y2="422.92" stroke="#000" stroke-width="1.4" />
<line x1="58.50" y1="387.88" x2="53.50" y2="387.88" stroke="#000" stroke-width="1.4" />
<line x1="58.50" y1="352.84" x2="53.50" y2="352.84" stroke="#000" stroke-width="1.4" />
<line x1="58.50" y1="475.48" x2="55.50" y2="475.48" stroke="#000" stroke-width="1.4" />
<line x1="58.50" y1="440.44" x2="55.50" y2="440.44" stroke="#000" stroke-width="1.4" />
<line x1="58.50" y1="405.40" x2="55.50" y2="405.40" stroke="#000" stroke-width="1.4" />
<line x1="58.50" y1="370.36" x2="55.50" y2="370.36" stroke="#000" stroke-width="1.4" />
<text x="50.50" y="496.50" font-size="10" font-weight="bold" text-anchor="end" fill="#000" textLength="5.6" lengthAdjust="spacingAndGlyphs" >0</text>
<text x="50.50" y="461.46" font-size="10" font-weight="bold" text-anchor="end" fill="#000" textLength="17" lengthAdjust="spacingAndGlyphs" >200</text>
<text x="50.50" y="426.42" font-size="10" font-weight="bold" text-anchor="end" fill="#000" textLength="17" lengthAdjust="spacingAndGlyphs" >400</text>
<text x="50.50" y="391.38" font-size="10" font-weight="bold" text-anchor="end" fill="#000" textLength="17" lengthAdjust="spacingAndGlyphs" >600</text>
<text x="50.50" y="356.34" font-size="10" font-weight="bold" text-anchor="end" fill="#000" textLength="17" lengthAdjust="spacingAndGlyphs" >800</text>
<line x1="455.70" y1="493.00" x2="460.70" y2="493.00" stroke="#000" stroke-width="1.4" />
<line x1="455.70" y1="469.65" x2="460.70" y2="469.65" stroke="#000" stroke-width="1.4" />
<line x1="455.70" y1="446.30" x2="460.70" y2="446.30" stroke="#000" stroke-width="1.4" />
<line x1="455.70" y1="422.95" x2="460.70" y2="422.95" stroke="#000" stroke-width="1.4" />
<line x1="455.70" y1="399.60" x2="460.70" y2="399.60" stroke="#000" stroke-width="1.4" />
<line x1="455.70" y1="376.25" x2="460.70" y2="376.25" stroke="#000" stroke-width="1.4" />
<line x1="455.70" y1="352.90" x2="460.70" y2="352.90" stroke="#000" stroke-width="1.4" />
<line x1="455.70" y1="481.32" x2="458.70" y2="481.32" stroke="#000" stroke-width="1.4" />
<line x1="455.70" y1="457.98" x2="458.70" y2="457.98" stroke="#000" stroke-width="1.4" />
<line x1="455.70" y1="434.62" x2="458.70" y2="434.62" stroke="#000" stroke-width="1.4" />
<line x1="455.70" y1="411.27" x2="458.70" y2="411.27" stroke="#000" stroke-width="1.4" />
<line x1="455.70" y1="387.93" x2="458.70" y2="387.93" stroke="#000" stroke-width="1.4" />
<line x1="455.70" y1="364.57" x2="458.70" y2="364.57" stroke="#000" stroke-width="1.4" />
<text x="463.80" y="496.50" font-size="10" font-weight="bold" text-anchor="start" fill="#000" textLength="6" lengthAdjust="spacingAndGlyphs" >0</text>
<text x="463.80" y="473.15" font-size="10" font-weight="bold" text-anchor="start" fill="#000" textLength="12.5" lengthAdjust="spacingAndGlyphs" >20</text>
<text x="463.80" y="449.80" font-size="10" font-weight="bold" text-anchor="start" fill="#000" textLength="12.5" lengthAdjust="spacingAndGlyphs" >40</text>
<text x="463.80" y="426.45" font-size="10" font-weight="bold" text-anchor="start" fill="#000" textLength="12.5" lengthAdjust="spacingAndGlyphs" >60</text>
<text x="463.80" y="403.10" font-size="10" font-weight="bold" text-anchor="start" fill="#000" textLength="12.5" lengthAdjust="spacingAndGlyphs" >80</text>
<text x="463.80" y="379.75" font-size="10" font-weight="bold" text-anchor="start" fill="#000" textLength="19.5" lengthAdjust="spacingAndGlyphs" >100</text>
<text x="463.80" y="356.40" font-size="10" font-weight="bold" text-anchor="start" fill="#000" textLength="19.5" lengthAdjust="spacingAndGlyphs" >120</text>
<line x1="59.10" y1="492.90" x2="59.10" y2="497.90" stroke="#000" stroke-width="1.4" />
<line x1="138.00" y1="492.90" x2="138.00" y2="497.90" stroke="#000" stroke-width="1.4" />
<line x1="216.90" y1="492.90" x2="216.90" y2="497.90" stroke="#000" stroke-width="1.4" />
<line x1="295.80" y1="492.90" x2="295.80" y2="497.90" stroke="#000" stroke-width="1.4" />
<line x1="374.70" y1="492.90" x2="374.70" y2="497.90" stroke="#000" stroke-width="1.4" />
<line x1="453.60" y1="492.90" x2="453.60" y2="497.90" stroke="#000" stroke-width="1.4" />
<line x1="98.55" y1="492.90" x2="98.55" y2="495.90" stroke="#000" stroke-width="1.4" />
<line x1="177.45" y1="492.90" x2="177.45" y2="495.90" stroke="#000" stroke-width="1.4" />
<line x1="256.35" y1="492.90" x2="256.35" y2="495.90" stroke="#000" stroke-width="1.4" />
<line x1="335.25" y1="492.90" x2="335.25" y2="495.90" stroke="#000" stroke-width="1.4" />
<line x1="414.15" y1="492.90" x2="414.15" y2="495.90" stroke="#000" stroke-width="1.4" />
<text x="59.10" y="510.00" font-size="10" font-weight="bold" text-anchor="middle" fill="#000" textLength="5.6" lengthAdjust="spacingAndGlyphs" >0</text>
<text x="138.00" y="510.00" font-size="10" font-weight="bold" text-anchor="middle" fill="#000" textLength="17" lengthAdjust="spacingAndGlyphs" >100</text>
<text x="216.90" y="510.00" font-size="10" font-weight="bold" text-anchor="middle" fill="#000" textLength="17" lengthAdjust="spacingAndGlyphs" >200</text>
<text x="295.80" y="510.00" font-size="10" font-weight="bold" text-anchor="middle" fill="#000" textLength="17" lengthAdjust="spacingAndGlyphs" >300</text>
<text x="374.70" y="510.00" font-size="10" font-weight="bold" text-anchor="middle" fill="#000" textLength="17" lengthAdjust="spacingAndGlyphs" >400</text>
<text x="453.60" y="510.00" font-size="10" font-weight="bold" text-anchor="middle" fill="#000" textLength="17" lengthAdjust="spacingAndGlyphs" >500</text>
<text x="215.80" y="523.40" font-size="12" font-weight="bold" text-anchor="start" fill="#000" textLength="82.6" lengthAdjust="spacingAndGlyphs" >Cycle Number</text>
<text transform="translate(23.5,424) rotate(-90)" font-size="12.5" font-weight="bold" text-anchor="middle" textLength="110" lengthAdjust="spacingAndGlyphs" xml:space="preserve">Capacity (mAhg<tspan font-size="7.5" dy="-7.2">-1</tspan><tspan dy="7.2"> )</tspan></text>
<text transform="translate(495.70,426.30) rotate(-90)" x="0" y="0" font-size="12.5" font-weight="bold" text-anchor="middle" textLength="137" lengthAdjust="spacingAndGlyphs">Columbic Efficiency (%)</text>
<text x="65.60" y="367.60" font-size="21" font-weight="bold" text-anchor="start" fill="#000" textLength="11.5" lengthAdjust="spacingAndGlyphs" >e</text>
<defs><clipPath id="clipe"><rect x="58.5" y="352.9" width="397.2" height="140"/></clipPath></defs><g clip-path="url(#clipe)">
<path d="M58.88,366.89L63.38,372.61L58.88,378.32ZM59.67,367.87L64.17,373.55L59.67,379.22ZM60.46,366.18L64.96,371.82L60.46,377.45ZM61.25,367.77L65.75,373.37L61.25,378.97ZM62.03,366.83L66.53,372.38L62.03,377.94ZM62.82,366.88L67.32,372.40L62.82,377.92ZM63.61,368.66L68.11,374.14L63.61,379.62ZM64.40,367.32L68.90,372.76L64.40,378.20ZM65.19,367.21L69.69,372.62L65.19,378.02ZM65.98,367.89L70.48,373.25L65.98,378.61ZM66.77,368.26L71.27,373.58L66.77,378.90ZM67.56,367.39L72.06,372.67L67.56,377.95ZM68.35,367.94L72.85,373.18L68.35,378.42ZM69.14,366.74L73.64,371.94L69.14,377.15ZM69.92,367.28L74.42,372.45L69.92,377.61ZM70.71,367.28L75.21,372.40L70.71,377.53ZM71.50,366.62L76.00,371.70L71.50,376.79ZM72.29,366.53L76.79,371.58L72.29,376.62ZM73.08,366.49L77.58,371.50L73.08,376.50ZM73.87,367.68L78.37,372.63L73.87,377.58ZM74.66,367.83L79.16,372.71L74.66,377.59ZM75.45,367.80L79.95,372.62L75.45,377.44ZM76.24,368.20L80.74,372.96L76.24,377.71ZM77.03,367.17L81.53,371.86L77.03,376.55ZM77.81,368.26L82.31,372.89L77.81,377.52ZM78.60,368.60L83.10,373.17L78.60,377.74ZM79.39,369.10L83.89,373.61L79.39,378.11ZM80.18,367.91L84.68,372.36L80.18,376.80ZM80.97,368.36L85.47,372.74L80.97,377.12ZM81.76,367.16L86.26,371.47L81.76,375.79ZM82.55,368.46L87.05,372.71L82.55,376.96ZM83.34,367.19L87.84,371.38L83.34,375.57ZM84.13,367.90L88.63,372.03L84.13,376.15ZM84.92,370.01L89.42,374.07L84.92,378.13ZM85.70,367.46L90.20,371.46L85.70,375.46ZM86.49,369.95L90.99,373.88L86.49,377.82ZM87.28,369.66L91.78,373.53L87.28,377.41ZM88.07,369.24L92.57,373.05L88.07,376.86ZM88.86,369.87L93.36,373.67L88.86,377.47ZM89.65,369.93L94.15,373.73L89.65,377.54ZM90.44,370.35L94.94,374.15L90.44,377.96ZM91.23,369.33L95.73,373.14L91.23,376.95ZM92.02,369.05L96.52,372.86L92.02,376.67ZM92.81,369.04L97.31,372.85L92.81,376.67ZM93.59,368.74L98.09,372.55L93.59,376.37ZM94.38,369.50L98.88,373.31L94.38,377.13ZM95.17,368.91L99.67,372.73L95.17,376.55ZM95.96,370.40L100.46,374.22L95.96,378.04ZM96.75,368.05L101.25,371.87L96.75,375.70ZM97.54,368.68L102.04,372.50L97.54,376.33ZM98.33,368.79L102.83,372.62L98.33,376.45ZM99.12,367.89L103.62,371.72L99.12,375.54ZM99.91,371.09L104.41,374.92L99.91,378.75ZM100.70,367.64L105.20,371.48L100.70,375.31ZM101.48,369.35L105.98,373.18L101.48,377.02ZM102.27,369.16L106.77,372.99L102.27,376.83ZM103.06,370.91L107.56,374.75L103.06,378.59ZM103.85,368.00L108.35,371.84L103.85,375.68ZM104.64,370.45L109.14,374.29L104.64,378.14ZM105.43,369.01L109.93,372.86L105.43,376.70ZM106.22,369.47L110.72,373.32L106.22,377.17ZM107.01,369.07L111.51,372.92L107.01,376.77ZM107.80,370.12L112.30,373.97L107.80,377.83ZM108.59,368.70L113.09,372.56L108.59,376.41ZM109.37,369.55L113.87,373.41L109.37,377.27ZM110.16,369.90L114.66,373.76L110.16,377.62ZM110.95,371.10L115.45,374.96L110.95,378.82ZM111.74,367.70L116.24,371.57L111.74,375.43ZM112.53,370.85L117.03,374.72L112.53,378.59ZM113.32,370.40L117.82,374.26L113.32,378.13ZM114.11,369.25L118.61,373.13L114.11,377.00ZM114.90,369.89L119.40,373.76L114.90,377.64ZM115.69,369.28L120.19,373.15L115.69,377.03ZM116.48,370.97L120.98,374.85L116.48,378.73ZM117.26,369.83L121.76,373.71L117.26,377.58ZM118.05,369.49L122.55,373.37L118.05,377.25ZM118.84,369.48L123.34,373.37L118.84,377.25ZM119.63,369.51L124.13,373.40L119.63,377.28ZM120.42,369.53L124.92,373.42L120.42,377.31ZM121.21,368.98L125.71,372.87L121.21,376.76ZM122.00,371.33L126.50,375.22L122.00,379.12ZM122.79,368.16L127.29,372.05L122.79,375.95ZM123.58,366.81L128.08,370.70L123.58,374.60ZM124.36,369.60L128.86,373.50L124.36,377.40ZM125.15,369.58L129.65,373.49L125.15,377.39ZM125.94,370.00L130.44,373.91L125.94,377.81ZM126.73,369.55L131.23,373.45L126.73,377.36ZM127.52,369.60L132.02,373.50L127.52,377.41ZM128.31,369.98L132.81,373.89L128.31,377.80ZM129.10,370.50L133.60,374.41L129.10,378.32ZM129.89,369.37L134.39,373.28L129.89,377.20ZM130.68,369.43L135.18,373.35L130.68,377.27ZM131.47,371.29L135.97,375.21L131.47,379.12ZM132.25,370.16L136.75,374.08L132.25,378.00ZM133.04,368.96L137.54,372.88L133.04,376.80ZM133.83,371.61L138.33,375.53L133.83,379.46ZM134.62,370.37L139.12,374.30L134.62,378.23ZM135.41,369.29L139.91,373.22L135.41,377.14ZM136.20,368.82L140.70,372.75L136.20,376.68ZM136.99,370.00L141.49,373.94L136.99,377.87ZM137.78,369.10L142.28,373.04L137.78,376.98ZM138.57,368.93L143.07,372.87L138.57,376.80ZM139.36,368.74L143.86,372.68L139.36,376.62ZM140.14,369.38L144.64,373.32L140.14,377.26ZM140.93,370.67L145.43,374.62L140.93,378.56ZM141.72,369.45L146.22,373.39L141.72,377.34ZM142.51,368.64L147.01,372.58L142.51,376.53ZM143.30,370.34L147.80,374.29L143.30,378.24ZM144.09,369.86L148.59,373.81L144.09,377.76ZM144.88,370.48L149.38,374.44L144.88,378.39ZM145.67,370.77L150.17,374.73L145.67,378.69ZM146.46,369.68L150.96,373.64L146.46,377.60ZM147.25,369.71L151.75,373.67L147.25,377.63ZM148.03,369.79L152.53,373.75L148.03,377.72ZM148.82,368.92L153.32,372.89L148.82,376.85ZM149.61,370.37L154.11,374.34L149.61,378.31ZM150.40,370.94L154.90,374.91L150.40,378.88ZM151.19,369.98L155.69,373.95L151.19,377.93ZM151.98,369.66L156.48,373.63L151.98,377.61ZM152.77,369.64L157.27,373.62L152.77,377.60ZM153.56,369.23L158.06,373.21L153.56,377.19ZM154.35,369.22L158.85,373.20L154.35,377.18ZM155.14,369.54L159.64,373.53L155.14,377.51ZM155.92,369.20L160.42,373.18L155.92,377.17ZM156.71,369.52L161.21,373.51L156.71,377.50ZM157.50,368.62L162.00,372.61L157.50,376.59ZM158.29,370.16L162.79,374.15L158.29,378.14ZM159.08,369.93L163.58,373.92L159.08,377.91ZM159.87,368.97L164.37,372.96L159.87,376.96ZM160.66,368.06L165.16,372.05L160.66,376.05ZM161.45,369.89L165.95,373.89L161.45,377.89ZM162.24,370.79L166.74,374.79L162.24,378.79ZM163.03,369.32L167.53,373.33L163.03,377.33ZM163.81,369.53L168.31,373.53L163.81,377.54ZM164.60,369.46L169.10,373.47L164.60,377.48ZM165.39,370.44L169.89,374.45L165.39,378.46ZM166.18,369.19L170.68,373.21L166.18,377.22ZM166.97,370.72L171.47,374.73L166.97,378.75ZM167.76,369.69L172.26,373.71L167.76,377.73ZM168.55,370.68L173.05,374.70L168.55,378.72ZM169.34,369.97L173.84,373.99L169.34,378.01ZM170.13,369.76L174.63,373.79L170.13,377.81ZM170.92,368.77L175.42,372.79L170.92,376.82ZM171.70,369.41L176.20,373.43L171.70,377.46ZM172.49,369.75L176.99,373.78L172.49,377.81ZM173.28,370.49L177.78,374.52L173.28,378.56ZM174.07,370.16L178.57,374.20L174.07,378.23ZM174.86,369.42L179.36,373.45L174.86,377.49ZM175.65,370.30L180.15,374.34L175.65,378.38ZM176.44,370.77L180.94,374.81L176.44,378.85ZM177.23,369.87L181.73,373.91L177.23,377.95ZM178.02,369.64L182.52,373.68L178.02,377.73ZM178.81,369.68L183.31,373.73L178.81,377.77ZM179.59,370.65L184.09,374.70L179.59,378.75ZM180.38,370.43L184.88,374.48L180.38,378.54ZM181.17,369.26L185.67,373.32L181.17,377.37ZM181.96,370.31L186.46,374.37L181.96,378.42ZM182.75,369.63L187.25,373.69L182.75,377.75ZM183.54,369.42L188.04,373.48L183.54,377.54ZM184.33,371.02L188.83,375.08L184.33,379.14ZM185.12,370.69L189.62,374.75L185.12,378.81ZM185.91,369.45L190.41,373.52L185.91,377.59ZM186.70,370.10L191.20,374.17L186.70,378.24ZM187.48,370.44L191.98,374.51L187.48,378.58ZM188.27,369.53L192.77,373.61L188.27,377.68ZM189.06,369.95L193.56,374.03L189.06,378.10ZM189.85,370.59L194.35,374.67L189.85,378.74ZM190.64,368.63L195.14,372.71L190.64,376.79ZM191.43,370.33L195.93,374.41L191.43,378.49ZM192.22,370.66L196.72,374.74L192.22,378.83ZM193.01,370.48L197.51,374.56L193.01,378.65ZM193.80,369.00L198.30,373.09L193.80,377.18ZM194.59,370.34L199.09,374.43L194.59,378.52ZM195.38,369.39L199.88,373.49L195.38,377.58ZM196.16,370.54L200.66,374.64L196.16,378.73ZM196.95,370.58L201.45,374.67L196.95,378.77ZM197.74,370.27L202.24,374.37L197.74,378.47ZM198.53,369.49L203.03,373.59L198.53,377.69ZM199.32,369.63L203.82,373.74L199.32,377.84ZM200.11,370.79L204.61,374.90L200.11,379.00ZM200.90,369.40L205.40,373.50L200.90,377.61ZM201.69,370.52L206.19,374.62L201.69,378.73ZM202.48,370.53L206.98,374.64L202.48,378.75ZM203.26,369.91L207.76,374.02L203.26,378.13ZM204.05,372.05L208.55,376.16L204.05,380.27ZM204.84,370.20L209.34,374.31L204.84,378.42ZM205.63,371.86L210.13,375.98L205.63,380.09ZM206.42,368.54L210.92,372.65L206.42,376.77ZM207.21,368.36L211.71,372.48L207.21,376.59ZM208.00,370.94L212.50,375.06L208.00,379.18ZM208.79,370.67L213.29,374.79L208.79,378.91ZM209.58,369.92L214.08,374.04L209.58,378.16ZM210.37,370.13L214.87,374.25L210.37,378.38ZM211.16,368.65L215.66,372.78L211.16,376.90ZM211.94,369.68L216.44,373.80L211.94,377.93ZM212.73,369.36L217.23,373.49L212.73,377.62ZM213.52,370.01L218.02,374.14L213.52,378.27ZM214.31,370.90L218.81,375.04L214.31,379.17ZM215.10,370.24L219.60,374.37L215.10,378.51ZM215.89,370.50L220.39,374.64L215.89,378.77ZM216.68,369.65L221.18,373.79L216.68,377.92ZM217.47,369.87L221.97,374.00L217.47,378.14ZM218.26,370.31L222.76,374.45L218.26,378.59ZM219.04,370.00L223.54,374.14L219.04,378.28ZM219.83,371.24L224.33,375.38L219.83,379.52ZM220.62,369.53L225.12,373.68L220.62,377.82ZM221.41,371.75L225.91,375.89L221.41,380.04ZM222.20,369.46L226.70,373.60L222.20,377.75ZM222.99,371.09L227.49,375.24L222.99,379.39ZM223.78,369.63L228.28,373.78L223.78,377.93ZM224.57,371.57L229.07,375.73L224.57,379.88ZM225.36,370.37L229.86,374.52L225.36,378.68ZM226.15,370.58L230.65,374.74L226.15,378.89ZM226.94,370.86L231.44,375.02L226.94,379.18ZM227.72,369.77L232.22,373.92L227.72,378.08ZM228.51,369.44L233.01,373.60L228.51,377.76ZM229.30,368.66L233.80,372.82L229.30,376.98ZM230.09,371.26L234.59,375.43L230.09,379.59ZM230.88,369.74L235.38,373.90L230.88,378.06ZM231.67,369.82L236.17,373.99L231.67,378.15ZM232.46,370.28L236.96,374.44L232.46,378.61ZM233.25,371.90L237.75,376.07L233.25,380.23ZM234.04,368.93L238.54,373.10L234.04,377.27ZM234.82,370.51L239.32,374.69L234.82,378.86ZM235.61,370.00L240.11,374.18L235.61,378.35ZM236.40,370.75L240.90,374.93L236.40,379.10ZM237.19,368.89L241.69,373.07L237.19,377.24ZM237.98,370.02L242.48,374.19L237.98,378.37ZM238.77,371.01L243.27,375.19L238.77,379.37ZM239.56,371.59L244.06,375.77L239.56,379.95ZM240.35,371.63L244.85,375.81L240.35,379.99ZM241.14,369.67L245.64,373.85L241.14,378.04ZM241.93,370.40L246.43,374.59L241.93,378.77ZM242.72,370.27L247.22,374.46L242.72,378.65ZM243.50,369.27L248.00,373.45L243.50,377.64ZM244.29,369.22L248.79,373.41L244.29,377.60ZM245.08,370.98L249.58,375.17L245.08,379.37ZM245.87,370.58L250.37,374.77L245.87,378.96ZM246.66,370.27L251.16,374.47L246.66,378.66ZM247.45,371.36L251.95,375.56L247.45,379.76ZM248.24,369.59L252.74,373.79L248.24,377.99ZM249.03,370.82L253.53,375.02L249.03,379.22ZM249.82,370.41L254.32,374.61L249.82,378.81ZM250.60,370.36L255.10,374.56L250.60,378.77ZM251.39,370.81L255.89,375.01L251.39,379.21ZM252.18,370.56L256.68,374.76L252.18,378.97ZM252.97,370.64L257.47,374.84L252.97,379.05ZM253.76,370.64L258.26,374.85L253.76,379.06ZM254.55,371.98L259.05,376.19L254.55,380.40ZM255.34,370.19L259.84,374.40L255.34,378.61ZM256.13,371.25L260.63,375.46L256.13,379.68ZM256.92,370.93L261.42,375.15L256.92,379.36ZM257.71,370.17L262.21,374.39L257.71,378.60ZM258.50,371.09L263.00,375.31L258.50,379.53ZM259.28,369.77L263.78,373.99L259.28,378.21ZM260.07,371.39L264.57,375.61L260.07,379.83ZM260.86,369.82L265.36,374.04L260.86,378.27ZM261.65,370.08L266.15,374.31L261.65,378.53ZM262.44,370.74L266.94,374.96L262.44,379.19ZM263.23,371.15L267.73,375.38L263.23,379.60ZM264.02,371.21L268.52,375.44L264.02,379.67ZM264.81,371.21L269.31,375.44L264.81,379.67ZM265.60,370.33L270.10,374.56L265.60,378.80ZM266.38,369.74L270.88,373.97L266.38,378.20ZM267.17,370.95L271.67,375.18L267.17,379.42ZM267.96,370.75L272.46,374.99L267.96,379.23ZM268.75,369.75L273.25,373.99L268.75,378.23ZM269.54,371.30L274.04,375.54L269.54,379.78ZM270.33,370.68L274.83,374.93L270.33,379.17ZM271.12,369.76L275.62,374.01L271.12,378.25ZM271.91,370.89L276.41,375.13L271.91,379.38ZM272.70,369.48L277.20,373.72L272.70,377.97ZM273.49,369.84L277.99,374.09L273.49,378.34ZM274.28,370.87L278.78,375.12L274.28,379.37ZM275.06,369.31L279.56,373.56L275.06,377.81ZM275.85,370.59L280.35,374.84L275.85,379.09ZM276.64,369.48L281.14,373.73L276.64,377.99ZM277.43,371.16L281.93,375.41L277.43,379.67ZM278.22,369.99L282.72,374.25L278.22,378.50ZM279.01,370.72L283.51,374.98L279.01,379.24ZM279.80,369.38L284.30,373.64L279.80,377.90ZM280.59,370.31L285.09,374.57L280.59,378.83ZM281.38,371.35L285.88,375.61L281.38,379.87ZM282.17,370.96L286.67,375.22L282.17,379.49ZM282.95,369.13L287.45,373.39L282.95,377.66ZM283.74,371.34L288.24,375.61L283.74,379.88ZM284.53,371.32L289.03,375.59L284.53,379.86ZM285.32,370.31L289.82,374.58L285.32,378.85ZM286.11,371.75L290.61,376.02L286.11,380.30ZM286.90,369.77L291.40,374.05L286.90,378.32ZM287.69,370.56L292.19,374.83L287.69,379.11ZM288.48,371.52L292.98,375.80L288.48,380.08ZM289.27,371.68L293.77,375.96L289.27,380.24ZM290.06,371.66L294.56,375.94L290.06,380.22ZM290.84,369.77L295.34,374.05L290.84,378.33ZM291.63,369.23L296.13,373.51L291.63,377.79ZM292.42,370.97L296.92,375.25L292.42,379.54ZM293.21,369.51L297.71,373.80L293.21,378.09ZM294.00,370.56L298.50,374.85L294.00,379.13ZM294.79,369.64L299.29,373.93L294.79,378.22ZM295.58,371.52L300.08,375.81L295.58,380.10ZM296.37,371.32L300.87,375.61L296.37,379.91ZM297.16,371.13L301.66,375.42L297.16,379.72ZM297.94,370.70L302.44,375.00L297.94,379.29ZM298.73,370.73L303.23,375.03L298.73,379.32ZM299.52,370.46L304.02,374.76L299.52,379.06ZM300.31,371.01L304.81,375.31L300.31,379.61ZM301.10,370.90L305.60,375.21L301.10,379.51ZM301.89,371.08L306.39,375.38L301.89,379.68ZM302.68,370.37L307.18,374.68L302.68,378.98ZM303.47,372.24L307.97,376.54L303.47,380.85ZM304.26,370.95L308.76,375.26L304.26,379.57ZM305.05,371.84L309.55,376.15L305.05,380.46ZM305.84,371.80L310.34,376.11L305.84,380.42ZM306.62,370.03L311.12,374.35L306.62,378.66ZM307.41,369.39L311.91,373.71L307.41,378.02ZM308.20,371.75L312.70,376.07L308.20,380.38ZM308.99,370.44L313.49,374.76L308.99,379.08ZM309.78,370.82L314.28,375.14L309.78,379.46ZM310.57,370.55L315.07,374.87L310.57,379.19ZM311.36,370.87L315.86,375.19L311.36,379.51ZM312.15,369.82L316.65,374.14L312.15,378.47ZM312.94,370.69L317.44,375.02L312.94,379.34ZM313.73,370.41L318.23,374.74L313.73,379.06ZM314.51,370.77L319.01,375.10L314.51,379.43ZM315.30,368.92L319.80,373.25L315.30,377.58ZM316.09,371.45L320.59,375.78L316.09,380.11ZM316.88,371.06L321.38,375.40L316.88,379.73ZM317.67,369.42L322.17,373.76L317.67,378.09ZM318.46,370.22L322.96,374.56L318.46,378.89ZM319.25,370.84L323.75,375.17L319.25,379.51ZM320.04,371.32L324.54,375.66L320.04,380.00ZM320.83,370.82L325.33,375.16L320.83,379.50ZM321.62,371.93L326.12,376.27L321.62,380.62ZM322.40,370.85L326.90,375.19L322.40,379.54ZM323.19,370.04L327.69,374.38L323.19,378.73ZM323.98,370.30L328.48,374.65L323.98,378.99ZM324.77,371.44L329.27,375.79L324.77,380.14ZM325.56,370.36L330.06,374.71L325.56,379.06ZM326.35,371.53L330.85,375.88L326.35,380.23ZM327.14,371.67L331.64,376.03L327.14,380.38ZM327.93,371.33L332.43,375.69L327.93,380.04ZM328.72,371.68L333.22,376.04L328.72,380.39ZM329.50,370.73L334.00,375.09L329.50,379.45ZM330.29,370.87L334.79,375.23L330.29,379.59ZM331.08,370.41L335.58,374.77L331.08,379.13ZM331.87,370.40L336.37,374.76L331.87,379.12ZM332.66,369.64L337.16,374.00L332.66,378.37ZM333.45,370.45L337.95,374.82L333.45,379.18ZM334.24,370.04L338.74,374.41L334.24,378.78ZM335.03,369.76L339.53,374.13L335.03,378.50ZM335.82,371.03L340.32,375.40L335.82,379.77ZM336.61,371.28L341.11,375.65L336.61,380.02ZM337.40,370.65L341.90,375.02L337.40,379.39ZM338.18,372.02L342.68,376.39L338.18,380.77ZM338.97,371.68L343.47,376.06L338.97,380.43ZM339.76,371.77L344.26,376.15L339.76,380.52ZM340.55,370.45L345.05,374.83L340.55,379.21ZM341.34,369.75L345.84,374.13L341.34,378.51ZM342.13,371.39L346.63,375.78L342.13,380.16ZM342.92,371.20L347.42,375.58L342.92,379.97ZM343.71,371.54L348.21,375.92L343.71,380.31ZM344.50,371.29L349.00,375.68L344.50,380.07ZM345.29,371.97L349.79,376.36L345.29,380.75ZM346.07,370.74L350.57,375.13L346.07,379.52ZM346.86,371.51L351.36,375.90L346.86,380.29ZM347.65,370.26L352.15,374.66L347.65,379.05ZM348.44,369.14L352.94,373.53L348.44,377.93ZM349.23,370.63L353.73,375.03L349.23,379.43ZM350.02,372.19L354.52,376.59L350.02,380.99ZM350.81,369.66L355.31,374.06L350.81,378.46ZM351.60,371.82L356.10,376.22L351.60,380.62ZM352.39,370.46L356.89,374.87L352.39,379.27ZM353.18,370.69L357.68,375.10L353.18,379.50ZM353.96,371.05L358.46,375.46L353.96,379.86ZM354.75,371.19L359.25,375.60L354.75,380.00ZM355.54,370.25L360.04,374.65L355.54,379.06ZM356.33,371.13L360.83,375.54L356.33,379.95ZM357.12,371.39L361.62,375.80L357.12,380.21ZM357.91,371.71L362.41,376.12L357.91,380.53ZM358.70,370.44L363.20,374.86L358.70,379.27ZM359.49,372.29L363.99,376.71L359.49,381.12ZM360.28,372.58L364.78,377.00L360.28,381.41ZM361.06,372.99L365.56,377.41L361.06,381.83ZM361.85,369.99L366.35,374.41L361.85,378.83ZM362.64,371.21L367.14,375.63L362.64,380.05ZM363.43,369.58L367.93,374.01L363.43,378.43ZM364.22,371.38L368.72,375.80L364.22,380.23ZM365.01,371.53L369.51,375.95L365.01,380.38ZM365.80,370.17L370.30,374.60L365.80,379.02ZM366.59,369.82L371.09,374.25L366.59,378.68ZM367.38,371.24L371.88,375.68L367.38,380.11ZM368.17,371.60L372.67,376.04L368.17,380.47ZM368.96,370.47L373.46,374.91L368.96,379.34ZM369.74,370.90L374.24,375.34L369.74,379.77ZM370.53,369.09L375.03,373.53L370.53,377.97ZM371.32,370.55L375.82,374.99L371.32,379.43ZM372.11,371.24L376.61,375.68L372.11,380.12ZM372.90,371.25L377.40,375.69L372.90,380.13ZM373.69,372.40L378.19,376.84L373.69,381.29ZM374.48,370.22L378.98,374.67L374.48,379.12ZM375.27,369.34L379.77,373.79L375.27,378.23ZM376.06,371.51L380.56,375.96L376.06,380.41ZM376.85,370.68L381.35,375.13L376.85,379.58ZM377.63,371.38L382.13,375.84L377.63,380.29ZM378.42,371.74L382.92,376.19L378.42,380.64ZM379.21,371.65L383.71,376.10L379.21,380.56ZM380.00,372.32L384.50,376.78L380.00,381.24ZM380.79,372.26L385.29,376.71L380.79,381.17ZM381.58,369.85L386.08,374.31L381.58,378.77ZM382.37,371.13L386.87,375.59L382.37,380.06ZM383.16,372.79L387.66,377.25L383.16,381.71ZM383.95,370.87L388.45,375.33L383.95,379.80ZM384.74,371.97L389.24,376.44L384.74,380.90ZM385.52,371.16L390.02,375.62L385.52,380.09ZM386.31,370.87L390.81,375.34L386.31,379.81ZM387.10,372.48L391.60,376.95L387.10,381.42ZM387.89,372.05L392.39,376.52L387.89,380.99ZM388.68,371.03L393.18,375.50L388.68,379.97ZM389.47,371.95L393.97,376.43L389.47,380.90ZM390.26,370.18L394.76,374.66L390.26,379.13ZM391.05,370.65L395.55,375.13L391.05,379.61ZM391.84,371.96L396.34,376.44L391.84,380.92ZM392.62,371.27L397.12,375.76L392.62,380.24ZM393.41,370.40L397.91,374.88L393.41,379.36ZM394.20,371.61L398.70,376.10L394.20,380.58ZM394.99,371.52L399.49,376.01L394.99,380.49ZM395.78,372.29L400.28,376.78L395.78,381.27ZM396.57,372.03L401.07,376.52L396.57,381.01ZM397.36,371.05L401.86,375.54L397.36,380.03ZM398.15,370.89L402.65,375.38L398.15,379.87ZM398.94,371.17L403.44,375.66L398.94,380.16ZM399.73,371.10L404.23,375.60L399.73,380.09ZM400.52,372.46L405.02,376.96L400.52,381.45ZM401.30,372.57L405.80,377.06L401.30,381.56ZM402.09,372.38L406.59,376.88L402.09,381.38ZM402.88,371.61L407.38,376.11L402.88,380.61ZM403.67,371.11L408.17,375.62L403.67,380.12ZM404.46,372.04L408.96,376.54L404.46,381.04ZM405.25,371.04L409.75,375.54L405.25,380.05ZM406.04,371.51L410.54,376.02L406.04,380.53ZM406.83,369.99L411.33,374.50L406.83,379.01ZM407.62,370.99L412.12,375.50L407.62,380.01ZM408.41,372.49L412.91,377.00L408.41,381.51ZM409.19,370.52L413.69,375.03L409.19,379.55ZM409.98,370.15L414.48,374.67L409.98,379.18ZM410.77,371.22L415.27,375.74L410.77,380.25ZM411.56,372.69L416.06,377.21L411.56,381.73ZM412.35,372.52L416.85,377.04L412.35,381.56ZM413.14,371.08L417.64,375.60L413.14,380.12ZM413.93,370.99L418.43,375.51L413.93,380.03ZM414.72,371.29L419.22,375.81L414.72,380.33ZM415.51,370.63L420.01,375.16L415.51,379.69ZM416.30,371.41L420.80,375.94L416.30,380.47ZM417.08,371.15L421.58,375.68L417.08,380.21ZM417.87,370.21L422.37,374.74L417.87,379.27ZM418.66,370.93L423.16,375.47L418.66,380.00ZM419.45,371.20L423.95,375.73L419.45,380.26ZM420.24,370.72L424.74,375.25L420.24,379.79ZM421.03,370.52L425.53,375.05L421.03,379.59ZM421.82,372.14L426.32,376.68L421.82,381.22ZM422.61,372.94L427.11,377.48L422.61,382.02ZM423.40,371.19L427.90,375.74L423.40,380.28ZM424.19,371.09L428.69,375.63L424.19,380.18ZM424.97,371.84L429.47,376.38L424.97,380.93ZM425.76,371.26L430.26,375.80L425.76,380.35ZM426.55,370.82L431.05,375.36L426.55,379.91ZM427.34,372.56L431.84,377.11L427.34,381.66ZM428.13,370.62L432.63,375.17L428.13,379.72ZM428.92,370.87L433.42,375.42L428.92,379.98ZM429.71,370.93L434.21,375.48L429.71,380.04ZM430.50,370.76L435.00,375.31L430.50,379.87ZM431.29,371.28L435.79,375.84L431.29,380.39ZM432.08,371.94L436.58,376.49L432.08,381.05ZM432.86,372.63L437.36,377.19L432.86,381.75ZM433.65,372.02L438.15,376.58L433.65,381.14ZM434.44,371.52L438.94,376.08L434.44,380.64ZM435.23,370.49L439.73,375.06L435.23,379.62ZM436.02,371.45L440.52,376.02L436.02,380.58ZM436.81,370.75L441.31,375.32L436.81,379.89ZM437.60,371.43L442.10,376.00L437.60,380.57ZM438.39,372.30L442.89,376.87L438.39,381.44ZM439.18,371.68L443.68,376.25L439.18,380.83ZM439.97,371.35L444.47,375.93L439.97,380.50ZM440.75,370.92L445.25,375.50L440.75,380.08ZM441.54,371.51L446.04,376.09L441.54,380.67ZM442.33,371.62L446.83,376.20L442.33,380.78ZM443.12,370.80L447.62,375.38L443.12,379.96ZM443.91,371.14L448.41,375.72L443.91,380.30ZM444.70,372.26L449.20,376.84L444.70,381.42ZM445.49,370.23L449.99,374.81L445.49,379.40ZM446.28,371.20L450.78,375.79L446.28,380.38ZM447.07,370.63L451.57,375.22L447.07,379.81ZM447.86,372.81L452.36,377.40L447.86,381.98ZM448.64,372.06L453.14,376.65L448.64,381.24ZM449.43,371.99L453.93,376.58L449.43,381.17ZM450.22,371.90L454.72,376.49L450.22,381.09ZM451.01,371.82L455.51,376.41L451.01,381.01ZM451.80,371.83L456.30,376.42L451.80,381.02Z" fill="#0000ff"/>
<path d="M134,366 L141.2,372 L134,378 Z" fill="#0000ff"/>
<path d="M176,366.5 L183.2,372.5 L176,378.5 Z" fill="#0000ff"/>
<path d="M208,367.5 L214.6,373 L208,378.5 Z" fill="#0000ff"/>
<path d="M250.5,367.0 L258.3,373.5 L250.5,380.0 Z" fill="#0000ff"/>
<path d="M282,367.0 L289.8,373.5 L282,380.0 Z" fill="#0000ff"/>
<path d="M313,365.0 L317.2,368.5 L313,372.0 Z" fill="#0000ff"/>
<path d="M340,368 L346.0,373 L340,378 Z" fill="#0000ff"/>
<path d="M58.8,380 L63.5,383 L58.8,386 Z" fill="#0000ff"/>
<g fill="#000"><circle cx="60.68" cy="413.66" r="3"/><circle cx="61.47" cy="417.88" r="3"/><circle cx="62.26" cy="420.66" r="3"/><circle cx="63.05" cy="421.15" r="3"/><circle cx="63.83" cy="423.68" r="3"/><circle cx="64.62" cy="424.47" r="3"/><circle cx="65.41" cy="423.56" r="3"/><circle cx="66.20" cy="424.93" r="3"/><circle cx="66.99" cy="425.68" r="3"/><circle cx="67.78" cy="425.87" r="3"/><circle cx="68.57" cy="426.85" r="3"/><circle cx="69.36" cy="426.03" r="3"/><circle cx="70.15" cy="427.07" r="3"/><circle cx="70.94" cy="427.54" r="3"/><circle cx="71.72" cy="428.05" r="3"/><circle cx="72.51" cy="427.74" r="3"/><circle cx="73.30" cy="427.69" r="3"/><circle cx="74.09" cy="428.50" r="3"/><circle cx="74.88" cy="426.78" r="3"/><circle cx="75.67" cy="428.95" r="3"/><circle cx="76.46" cy="428.19" r="3"/><circle cx="77.25" cy="427.64" r="3"/><circle cx="78.04" cy="428.32" r="3"/><circle cx="78.83" cy="427.45" r="3"/><circle cx="79.61" cy="427.41" r="3"/><circle cx="80.40" cy="428.69" r="3"/><circle cx="81.19" cy="428.42" r="3"/><circle cx="81.98" cy="429.52" r="3"/><circle cx="82.77" cy="428.43" r="3"/><circle cx="83.56" cy="428.19" r="3"/><circle cx="84.35" cy="428.46" r="3"/><circle cx="85.14" cy="430.38" r="3"/><circle cx="85.93" cy="429.24" r="3"/><circle cx="86.72" cy="428.83" r="3"/><circle cx="87.50" cy="428.61" r="3"/><circle cx="88.29" cy="428.58" r="3"/><circle cx="89.08" cy="429.27" r="3"/><circle cx="89.87" cy="429.73" r="3"/><circle cx="90.66" cy="430.28" r="3"/><circle cx="91.45" cy="430.32" r="3"/><circle cx="92.24" cy="429.75" r="3"/><circle cx="93.03" cy="429.13" r="3"/><circle cx="93.82" cy="428.88" r="3"/><circle cx="94.61" cy="427.75" r="3"/><circle cx="95.39" cy="428.55" r="3"/><circle cx="96.18" cy="429.44" r="3"/><circle cx="96.97" cy="428.80" r="3"/><circle cx="97.76" cy="429.18" r="3"/><circle cx="98.55" cy="427.86" r="3"/><circle cx="99.34" cy="429.32" r="3"/><circle cx="100.13" cy="428.78" r="3"/><circle cx="100.92" cy="428.43" r="3"/><circle cx="101.71" cy="428.50" r="3"/><circle cx="102.50" cy="426.48" r="3"/><circle cx="103.28" cy="427.48" r="3"/><circle cx="104.07" cy="427.07" r="3"/><circle cx="104.86" cy="428.79" r="3"/><circle cx="105.65" cy="427.22" r="3"/><circle cx="106.44" cy="426.82" r="3"/><circle cx="107.23" cy="427.59" r="3"/><circle cx="108.02" cy="426.08" r="3"/><circle cx="108.81" cy="427.64" r="3"/><circle cx="109.60" cy="425.98" r="3"/><circle cx="110.39" cy="426.25" r="3"/><circle cx="111.17" cy="425.48" r="3"/><circle cx="111.96" cy="426.51" r="3"/><circle cx="112.75" cy="424.25" r="3"/><circle cx="113.54" cy="426.07" r="3"/><circle cx="114.33" cy="424.84" r="3"/><circle cx="115.12" cy="425.27" r="3"/><circle cx="115.91" cy="424.26" r="3"/><circle cx="116.70" cy="425.05" r="3"/><circle cx="117.49" cy="424.85" r="3"/><circle cx="118.28" cy="424.97" r="3"/><circle cx="119.06" cy="424.65" r="3"/><circle cx="119.85" cy="424.75" r="3"/><circle cx="120.64" cy="424.88" r="3"/><circle cx="121.43" cy="423.79" r="3"/><circle cx="122.22" cy="423.12" r="3"/><circle cx="123.01" cy="422.92" r="3"/><circle cx="123.80" cy="424.17" r="3"/><circle cx="124.59" cy="423.31" r="3"/><circle cx="125.38" cy="424.18" r="3"/><circle cx="126.16" cy="423.36" r="3"/><circle cx="126.95" cy="422.49" r="3"/><circle cx="127.74" cy="423.71" r="3"/><circle cx="128.53" cy="424.31" r="3"/><circle cx="129.32" cy="422.70" r="3"/><circle cx="130.11" cy="422.05" r="3"/><circle cx="130.90" cy="421.99" r="3"/><circle cx="131.69" cy="423.08" r="3"/><circle cx="132.48" cy="421.93" r="3"/><circle cx="133.27" cy="421.93" r="3"/><circle cx="134.06" cy="422.58" r="3"/><circle cx="134.84" cy="422.06" r="3"/><circle cx="135.63" cy="422.08" r="3"/><circle cx="136.42" cy="421.57" r="3"/><circle cx="137.21" cy="421.45" r="3"/><circle cx="138.00" cy="421.96" r="3"/><circle cx="138.79" cy="421.91" r="3"/><circle cx="139.58" cy="422.17" r="3"/><circle cx="140.37" cy="421.35" r="3"/><circle cx="141.16" cy="421.89" r="3"/><circle cx="141.94" cy="421.94" r="3"/><circle cx="142.73" cy="421.61" r="3"/><circle cx="143.52" cy="421.90" r="3"/><circle cx="144.31" cy="422.16" r="3"/><circle cx="145.10" cy="421.54" r="3"/><circle cx="145.89" cy="421.41" r="3"/><circle cx="146.68" cy="420.63" r="3"/><circle cx="147.47" cy="421.49" r="3"/><circle cx="148.26" cy="421.14" r="3"/><circle cx="149.05" cy="420.94" r="3"/><circle cx="149.84" cy="420.53" r="3"/><circle cx="150.62" cy="421.50" r="3"/><circle cx="151.41" cy="422.89" r="3"/><circle cx="152.20" cy="421.40" r="3"/><circle cx="152.99" cy="421.16" r="3"/><circle cx="153.78" cy="421.41" r="3"/><circle cx="154.57" cy="420.69" r="3"/><circle cx="155.36" cy="421.17" r="3"/><circle cx="156.15" cy="420.64" r="3"/><circle cx="156.94" cy="420.65" r="3"/><circle cx="157.72" cy="421.26" r="3"/><circle cx="158.51" cy="421.26" r="3"/><circle cx="159.30" cy="421.02" r="3"/><circle cx="160.09" cy="420.53" r="3"/><circle cx="160.88" cy="421.17" r="3"/><circle cx="161.67" cy="420.13" r="3"/><circle cx="162.46" cy="421.33" r="3"/><circle cx="163.25" cy="420.45" r="3"/><circle cx="164.04" cy="420.60" r="3"/><circle cx="164.83" cy="421.05" r="3"/><circle cx="165.62" cy="420.79" r="3"/><circle cx="166.40" cy="419.39" r="3"/><circle cx="167.19" cy="420.03" r="3"/><circle cx="167.98" cy="420.36" r="3"/><circle cx="168.77" cy="419.24" r="3"/><circle cx="169.56" cy="418.22" r="3"/><circle cx="170.35" cy="419.76" r="3"/><circle cx="171.14" cy="419.67" r="3"/><circle cx="171.93" cy="419.91" r="3"/><circle cx="172.72" cy="419.57" r="3"/><circle cx="173.50" cy="419.50" r="3"/><circle cx="174.29" cy="419.48" r="3"/><circle cx="175.08" cy="420.18" r="3"/><circle cx="175.87" cy="419.46" r="3"/><circle cx="176.66" cy="419.40" r="3"/><circle cx="177.45" cy="418.64" r="3"/><circle cx="178.24" cy="419.61" r="3"/><circle cx="179.03" cy="418.59" r="3"/><circle cx="179.82" cy="419.14" r="3"/><circle cx="180.61" cy="417.17" r="3"/><circle cx="181.40" cy="418.88" r="3"/><circle cx="182.18" cy="418.70" r="3"/><circle cx="182.97" cy="418.50" r="3"/><circle cx="183.76" cy="419.78" r="3"/><circle cx="184.55" cy="419.22" r="3"/><circle cx="185.34" cy="418.90" r="3"/><circle cx="186.13" cy="418.69" r="3"/><circle cx="186.92" cy="420.43" r="3"/><circle cx="187.71" cy="419.70" r="3"/><circle cx="188.50" cy="419.70" r="3"/><circle cx="189.28" cy="418.76" r="3"/><circle cx="190.07" cy="420.27" r="3"/><circle cx="190.86" cy="419.81" r="3"/><circle cx="191.65" cy="419.29" r="3"/><circle cx="192.44" cy="419.46" r="3"/><circle cx="193.23" cy="418.46" r="3"/><circle cx="194.02" cy="420.11" r="3"/><circle cx="194.81" cy="418.95" r="3"/><circle cx="195.60" cy="420.36" r="3"/><circle cx="196.39" cy="419.52" r="3"/><circle cx="197.18" cy="419.45" r="3"/><circle cx="197.96" cy="420.21" r="3"/><circle cx="198.75" cy="420.15" r="3"/><circle cx="199.54" cy="419.28" r="3"/><circle cx="200.33" cy="419.99" r="3"/><circle cx="201.12" cy="420.31" r="3"/><circle cx="201.91" cy="419.57" r="3"/><circle cx="202.70" cy="418.66" r="3"/><circle cx="203.49" cy="419.28" r="3"/><circle cx="204.28" cy="418.63" r="3"/><circle cx="205.06" cy="418.75" r="3"/><circle cx="205.85" cy="419.04" r="3"/><circle cx="206.64" cy="418.82" r="3"/><circle cx="207.43" cy="418.56" r="3"/><circle cx="208.22" cy="417.48" r="3"/><circle cx="209.01" cy="419.02" r="3"/><circle cx="209.80" cy="418.78" r="3"/><circle cx="210.59" cy="418.77" r="3"/><circle cx="211.38" cy="419.30" r="3"/><circle cx="212.17" cy="420.67" r="3"/><circle cx="212.96" cy="418.57" r="3"/><circle cx="213.74" cy="418.48" r="3"/><circle cx="214.53" cy="420.28" r="3"/><circle cx="215.32" cy="419.33" r="3"/><circle cx="216.11" cy="420.93" r="3"/><circle cx="216.90" cy="419.47" r="3"/><circle cx="217.69" cy="419.96" r="3"/><circle cx="218.48" cy="421.02" r="3"/><circle cx="219.27" cy="421.21" r="3"/><circle cx="220.06" cy="421.02" r="3"/><circle cx="220.84" cy="421.16" r="3"/><circle cx="221.63" cy="420.90" r="3"/><circle cx="222.42" cy="420.82" r="3"/><circle cx="223.21" cy="421.12" r="3"/><circle cx="224.00" cy="422.29" r="3"/><circle cx="224.79" cy="422.03" r="3"/><circle cx="225.58" cy="421.69" r="3"/><circle cx="226.37" cy="422.04" r="3"/><circle cx="227.16" cy="422.53" r="3"/><circle cx="227.95" cy="422.91" r="3"/><circle cx="228.74" cy="421.99" r="3"/><circle cx="229.52" cy="422.01" r="3"/><circle cx="230.31" cy="422.27" r="3"/><circle cx="231.10" cy="423.84" r="3"/><circle cx="231.89" cy="422.17" r="3"/><circle cx="232.68" cy="422.87" r="3"/><circle cx="233.47" cy="420.90" r="3"/><circle cx="234.26" cy="422.53" r="3"/><circle cx="235.05" cy="420.95" r="3"/><circle cx="235.84" cy="421.15" r="3"/><circle cx="236.62" cy="421.44" r="3"/><circle cx="237.41" cy="421.77" r="3"/><circle cx="238.20" cy="421.97" r="3"/><circle cx="238.99" cy="422.08" r="3"/><circle cx="239.78" cy="421.96" r="3"/><circle cx="240.57" cy="421.46" r="3"/><circle cx="241.36" cy="423.52" r="3"/><circle cx="242.15" cy="421.95" r="3"/><circle cx="242.94" cy="422.09" r="3"/><circle cx="243.73" cy="422.98" r="3"/><circle cx="244.52" cy="422.20" r="3"/><circle cx="245.30" cy="421.88" r="3"/><circle cx="246.09" cy="421.66" r="3"/><circle cx="246.88" cy="422.68" r="3"/><circle cx="247.67" cy="420.59" r="3"/><circle cx="248.46" cy="420.63" r="3"/><circle cx="249.25" cy="421.35" r="3"/><circle cx="250.04" cy="419.78" r="3"/><circle cx="250.83" cy="420.61" r="3"/><circle cx="251.62" cy="421.89" r="3"/><circle cx="252.41" cy="420.74" r="3"/><circle cx="253.19" cy="421.12" r="3"/><circle cx="253.98" cy="421.44" r="3"/><circle cx="254.77" cy="420.11" r="3"/><circle cx="255.56" cy="421.05" r="3"/><circle cx="256.35" cy="420.38" r="3"/><circle cx="257.14" cy="420.01" r="3"/><circle cx="257.93" cy="420.53" r="3"/><circle cx="258.72" cy="420.64" r="3"/><circle cx="259.51" cy="420.35" r="3"/><circle cx="260.30" cy="420.14" r="3"/><circle cx="261.08" cy="421.26" r="3"/><circle cx="261.87" cy="421.40" r="3"/><circle cx="262.66" cy="420.99" r="3"/><circle cx="263.45" cy="420.53" r="3"/><circle cx="264.24" cy="419.87" r="3"/><circle cx="265.03" cy="420.03" r="3"/><circle cx="265.82" cy="419.83" r="3"/><circle cx="266.61" cy="420.75" r="3"/><circle cx="267.40" cy="421.23" r="3"/><circle cx="268.19" cy="421.23" r="3"/><circle cx="268.97" cy="420.58" r="3"/><circle cx="269.76" cy="420.33" r="3"/><circle cx="270.55" cy="420.72" r="3"/><circle cx="271.34" cy="420.68" r="3"/><circle cx="272.13" cy="421.01" r="3"/><circle cx="272.92" cy="421.62" r="3"/><circle cx="273.71" cy="420.13" r="3"/><circle cx="274.50" cy="422.05" r="3"/><circle cx="275.29" cy="419.14" r="3"/><circle cx="276.08" cy="419.37" r="3"/><circle cx="276.86" cy="419.55" r="3"/><circle cx="277.65" cy="419.89" r="3"/><circle cx="278.44" cy="420.44" r="3"/><circle cx="279.23" cy="422.03" r="3"/><circle cx="280.02" cy="420.11" r="3"/><circle cx="280.81" cy="421.16" r="3"/><circle cx="281.60" cy="419.95" r="3"/><circle cx="282.39" cy="420.11" r="3"/><circle cx="283.18" cy="419.10" r="3"/><circle cx="283.97" cy="421.18" r="3"/><circle cx="284.75" cy="419.38" r="3"/><circle cx="285.54" cy="418.79" r="3"/><circle cx="286.33" cy="420.59" r="3"/><circle cx="287.12" cy="418.95" r="3"/><circle cx="287.91" cy="418.91" r="3"/><circle cx="288.70" cy="418.32" r="3"/><circle cx="289.49" cy="417.65" r="3"/><circle cx="290.28" cy="417.15" r="3"/><circle cx="291.07" cy="418.14" r="3"/><circle cx="291.86" cy="419.50" r="3"/><circle cx="292.64" cy="418.79" r="3"/><circle cx="293.43" cy="418.49" r="3"/><circle cx="294.22" cy="419.47" r="3"/><circle cx="295.01" cy="418.21" r="3"/><circle cx="295.80" cy="419.92" r="3"/><circle cx="296.59" cy="419.08" r="3"/><circle cx="297.38" cy="418.63" r="3"/><circle cx="298.17" cy="419.80" r="3"/><circle cx="298.96" cy="419.80" r="3"/><circle cx="299.75" cy="419.32" r="3"/><circle cx="300.53" cy="419.66" r="3"/><circle cx="301.32" cy="420.06" r="3"/><circle cx="302.11" cy="420.22" r="3"/><circle cx="302.90" cy="418.53" r="3"/><circle cx="303.69" cy="417.16" r="3"/><circle cx="304.48" cy="420.27" r="3"/><circle cx="305.27" cy="418.54" r="3"/><circle cx="306.06" cy="418.30" r="3"/><circle cx="306.85" cy="418.76" r="3"/><circle cx="307.64" cy="418.03" r="3"/><circle cx="308.42" cy="418.92" r="3"/><circle cx="309.21" cy="417.20" r="3"/><circle cx="310.00" cy="417.79" r="3"/><circle cx="310.79" cy="416.93" r="3"/><circle cx="311.58" cy="418.73" r="3"/><circle cx="312.37" cy="417.37" r="3"/><circle cx="313.16" cy="418.17" r="3"/><circle cx="313.95" cy="418.24" r="3"/><circle cx="314.74" cy="416.32" r="3"/><circle cx="315.53" cy="416.92" r="3"/><circle cx="316.31" cy="417.52" r="3"/><circle cx="317.10" cy="417.01" r="3"/><circle cx="317.89" cy="416.83" r="3"/><circle cx="318.68" cy="417.46" r="3"/><circle cx="319.47" cy="417.47" r="3"/><circle cx="320.26" cy="416.37" r="3"/><circle cx="321.05" cy="416.64" r="3"/><circle cx="321.84" cy="417.14" r="3"/><circle cx="322.63" cy="416.79" r="3"/><circle cx="323.42" cy="416.69" r="3"/><circle cx="324.20" cy="415.77" r="3"/><circle cx="324.99" cy="417.72" r="3"/><circle cx="325.78" cy="416.29" r="3"/><circle cx="326.57" cy="416.59" r="3"/><circle cx="327.36" cy="416.33" r="3"/><circle cx="328.15" cy="416.36" r="3"/><circle cx="328.94" cy="416.37" r="3"/><circle cx="329.73" cy="415.64" r="3"/><circle cx="330.52" cy="416.43" r="3"/><circle cx="331.31" cy="416.96" r="3"/><circle cx="332.09" cy="416.35" r="3"/><circle cx="332.88" cy="416.53" r="3"/><circle cx="333.67" cy="416.32" r="3"/><circle cx="334.46" cy="415.95" r="3"/><circle cx="335.25" cy="417.14" r="3"/><circle cx="336.04" cy="415.36" r="3"/><circle cx="336.83" cy="416.06" r="3"/><circle cx="337.62" cy="416.46" r="3"/><circle cx="338.41" cy="415.90" r="3"/><circle cx="339.20" cy="414.92" r="3"/><circle cx="339.98" cy="414.85" r="3"/><circle cx="340.77" cy="416.73" r="3"/><circle cx="341.56" cy="415.03" r="3"/><circle cx="342.35" cy="415.75" r="3"/><circle cx="343.14" cy="416.17" r="3"/><circle cx="343.93" cy="415.91" r="3"/><circle cx="344.72" cy="414.66" r="3"/><circle cx="345.51" cy="414.63" r="3"/><circle cx="346.30" cy="415.92" r="3"/><circle cx="347.09" cy="415.51" r="3"/><circle cx="347.87" cy="415.91" r="3"/><circle cx="348.66" cy="416.20" r="3"/><circle cx="349.45" cy="416.30" r="3"/><circle cx="350.24" cy="415.31" r="3"/><circle cx="351.03" cy="415.12" r="3"/><circle cx="351.82" cy="416.99" r="3"/><circle cx="352.61" cy="415.95" r="3"/><circle cx="353.40" cy="415.62" r="3"/><circle cx="354.19" cy="415.10" r="3"/><circle cx="354.98" cy="416.91" r="3"/><circle cx="355.76" cy="415.71" r="3"/><circle cx="356.55" cy="415.91" r="3"/><circle cx="357.34" cy="417.12" r="3"/><circle cx="358.13" cy="416.95" r="3"/><circle cx="358.92" cy="417.17" r="3"/><circle cx="359.71" cy="415.95" r="3"/><circle cx="360.50" cy="414.89" r="3"/><circle cx="361.29" cy="416.24" r="3"/><circle cx="362.08" cy="416.77" r="3"/><circle cx="362.87" cy="416.57" r="3"/><circle cx="363.65" cy="417.70" r="3"/><circle cx="364.44" cy="417.36" r="3"/><circle cx="365.23" cy="416.39" r="3"/><circle cx="366.02" cy="417.51" r="3"/><circle cx="366.81" cy="417.02" r="3"/><circle cx="367.60" cy="416.80" r="3"/><circle cx="368.39" cy="417.92" r="3"/><circle cx="369.18" cy="415.99" r="3"/><circle cx="369.97" cy="417.87" r="3"/><circle cx="370.76" cy="417.92" r="3"/><circle cx="371.54" cy="415.74" r="3"/><circle cx="372.33" cy="417.05" r="3"/><circle cx="373.12" cy="417.07" r="3"/><circle cx="373.91" cy="416.40" r="3"/><circle cx="374.70" cy="416.80" r="3"/><circle cx="375.49" cy="416.64" r="3"/><circle cx="376.28" cy="417.26" r="3"/><circle cx="377.07" cy="416.83" r="3"/><circle cx="377.86" cy="415.74" r="3"/><circle cx="378.65" cy="418.07" r="3"/><circle cx="379.43" cy="417.87" r="3"/><circle cx="380.22" cy="416.67" r="3"/><circle cx="381.01" cy="417.87" r="3"/><circle cx="381.80" cy="418.68" r="3"/><circle cx="382.59" cy="416.19" r="3"/><circle cx="383.38" cy="417.00" r="3"/><circle cx="384.17" cy="416.93" r="3"/><circle cx="384.96" cy="417.69" r="3"/><circle cx="385.75" cy="417.09" r="3"/><circle cx="386.54" cy="416.34" r="3"/><circle cx="387.32" cy="418.20" r="3"/><circle cx="388.11" cy="417.10" r="3"/><circle cx="388.90" cy="417.84" r="3"/><circle cx="389.69" cy="418.94" r="3"/><circle cx="390.48" cy="416.83" r="3"/><circle cx="391.27" cy="417.07" r="3"/><circle cx="392.06" cy="418.00" r="3"/><circle cx="392.85" cy="417.30" r="3"/><circle cx="393.64" cy="417.74" r="3"/><circle cx="394.43" cy="417.38" r="3"/><circle cx="395.21" cy="419.35" r="3"/><circle cx="396.00" cy="417.84" r="3"/><circle cx="396.79" cy="417.72" r="3"/><circle cx="397.58" cy="417.64" r="3"/><circle cx="398.37" cy="417.89" r="3"/><circle cx="399.16" cy="416.56" r="3"/><circle cx="399.95" cy="417.58" r="3"/><circle cx="400.74" cy="418.36" r="3"/><circle cx="401.53" cy="417.08" r="3"/><circle cx="402.32" cy="418.02" r="3"/><circle cx="403.10" cy="418.00" r="3"/><circle cx="403.89" cy="417.78" r="3"/><circle cx="404.68" cy="419.96" r="3"/><circle cx="405.47" cy="418.79" r="3"/><circle cx="406.26" cy="418.60" r="3"/><circle cx="407.05" cy="417.89" r="3"/><circle cx="407.84" cy="418.57" r="3"/><circle cx="408.63" cy="418.38" r="3"/><circle cx="409.42" cy="418.60" r="3"/><circle cx="410.21" cy="418.89" r="3"/><circle cx="410.99" cy="420.56" r="3"/><circle cx="411.78" cy="419.82" r="3"/><circle cx="412.57" cy="420.15" r="3"/><circle cx="413.36" cy="419.99" r="3"/><circle cx="414.15" cy="421.08" r="3"/><circle cx="414.94" cy="418.71" r="3"/><circle cx="415.73" cy="418.35" r="3"/><circle cx="416.52" cy="419.47" r="3"/><circle cx="417.31" cy="419.58" r="3"/><circle cx="418.10" cy="419.50" r="3"/><circle cx="418.88" cy="419.11" r="3"/><circle cx="419.67" cy="420.10" r="3"/><circle cx="420.46" cy="420.90" r="3"/><circle cx="421.25" cy="419.92" r="3"/><circle cx="422.04" cy="419.68" r="3"/><circle cx="422.83" cy="420.75" r="3"/><circle cx="423.62" cy="419.78" r="3"/><circle cx="424.41" cy="419.82" r="3"/><circle cx="425.20" cy="420.36" r="3"/><circle cx="425.99" cy="418.62" r="3"/><circle cx="426.77" cy="421.61" r="3"/><circle cx="427.56" cy="420.29" r="3"/><circle cx="428.35" cy="420.81" r="3"/><circle cx="429.14" cy="420.76" r="3"/><circle cx="429.93" cy="420.91" r="3"/><circle cx="430.72" cy="419.78" r="3"/><circle cx="431.51" cy="422.05" r="3"/><circle cx="432.30" cy="421.30" r="3"/><circle cx="433.09" cy="421.20" r="3"/><circle cx="433.88" cy="423.29" r="3"/><circle cx="434.66" cy="420.29" r="3"/><circle cx="435.45" cy="421.79" r="3"/><circle cx="436.24" cy="421.29" r="3"/><circle cx="437.03" cy="420.40" r="3"/><circle cx="437.82" cy="422.90" r="3"/><circle cx="438.61" cy="420.55" r="3"/><circle cx="439.40" cy="421.83" r="3"/><circle cx="440.19" cy="421.76" r="3"/><circle cx="440.98" cy="422.04" r="3"/><circle cx="441.77" cy="421.35" r="3"/><circle cx="442.55" cy="423.05" r="3"/><circle cx="443.34" cy="422.37" r="3"/><circle cx="444.13" cy="421.39" r="3"/><circle cx="444.92" cy="421.52" r="3"/><circle cx="445.71" cy="422.66" r="3"/><circle cx="446.50" cy="421.74" r="3"/><circle cx="447.29" cy="422.95" r="3"/><circle cx="448.08" cy="422.97" r="3"/><circle cx="448.87" cy="422.42" r="3"/><circle cx="449.66" cy="421.57" r="3"/><circle cx="450.44" cy="422.10" r="3"/><circle cx="451.23" cy="423.36" r="3"/><circle cx="452.02" cy="422.84" r="3"/><circle cx="452.81" cy="424.59" r="3"/><circle cx="453.60" cy="423.07" r="3"/></g>
<g fill="#ff0000"><circle cx="60.68" cy="412.06" r="3"/><circle cx="61.47" cy="416.28" r="3"/><circle cx="62.26" cy="419.06" r="3"/><circle cx="63.05" cy="419.55" r="3"/><circle cx="63.83" cy="422.08" r="3"/><circle cx="64.62" cy="422.87" r="3"/><circle cx="65.41" cy="421.96" r="3"/><circle cx="66.20" cy="423.33" r="3"/><circle cx="66.99" cy="424.08" r="3"/><circle cx="67.78" cy="424.27" r="3"/><circle cx="68.57" cy="425.25" r="3"/><circle cx="69.36" cy="424.43" r="3"/><circle cx="70.15" cy="425.47" r="3"/><circle cx="70.94" cy="425.94" r="3"/><circle cx="71.72" cy="426.45" r="3"/><circle cx="72.51" cy="426.14" r="3"/><circle cx="73.30" cy="426.09" r="3"/><circle cx="74.09" cy="426.90" r="3"/><circle cx="74.88" cy="425.18" r="3"/><circle cx="75.67" cy="427.35" r="3"/><circle cx="76.46" cy="426.59" r="3"/><circle cx="77.25" cy="426.04" r="3"/><circle cx="78.04" cy="426.72" r="3"/><circle cx="78.83" cy="425.85" r="3"/><circle cx="79.61" cy="425.81" r="3"/><circle cx="80.40" cy="427.09" r="3"/><circle cx="81.19" cy="426.82" r="3"/><circle cx="81.98" cy="427.92" r="3"/><circle cx="82.77" cy="426.83" r="3"/><circle cx="83.56" cy="426.59" r="3"/><circle cx="84.35" cy="426.86" r="3"/><circle cx="85.14" cy="428.78" r="3"/><circle cx="85.93" cy="427.64" r="3"/><circle cx="86.72" cy="427.23" r="3"/><circle cx="87.50" cy="427.01" r="3"/><circle cx="88.29" cy="426.98" r="3"/><circle cx="89.08" cy="427.67" r="3"/><circle cx="89.87" cy="428.13" r="3"/><circle cx="90.66" cy="428.68" r="3"/><circle cx="91.45" cy="428.72" r="3"/><circle cx="92.24" cy="428.15" r="3"/><circle cx="93.03" cy="427.53" r="3"/><circle cx="93.82" cy="427.28" r="3"/><circle cx="94.61" cy="426.15" r="3"/><circle cx="95.39" cy="426.95" r="3"/><circle cx="96.18" cy="427.84" r="3"/><circle cx="96.97" cy="427.20" r="3"/><circle cx="97.76" cy="427.58" r="3"/><circle cx="98.55" cy="426.26" r="3"/><circle cx="99.34" cy="427.72" r="3"/><circle cx="100.13" cy="427.18" r="3"/><circle cx="100.92" cy="426.83" r="3"/><circle cx="101.71" cy="426.90" r="3"/><circle cx="102.50" cy="424.88" r="3"/><circle cx="103.28" cy="425.88" r="3"/><circle cx="104.07" cy="425.47" r="3"/><circle cx="104.86" cy="427.19" r="3"/><circle cx="105.65" cy="425.62" r="3"/><circle cx="106.44" cy="425.22" r="3"/><circle cx="107.23" cy="425.99" r="3"/><circle cx="108.02" cy="424.48" r="3"/><circle cx="108.81" cy="426.04" r="3"/><circle cx="109.60" cy="424.38" r="3"/><circle cx="110.39" cy="424.65" r="3"/><circle cx="111.17" cy="423.88" r="3"/><circle cx="111.96" cy="424.91" r="3"/><circle cx="112.75" cy="422.65" r="3"/><circle cx="113.54" cy="424.47" r="3"/><circle cx="114.33" cy="423.24" r="3"/><circle cx="115.12" cy="423.67" r="3"/><circle cx="115.91" cy="422.66" r="3"/><circle cx="116.70" cy="423.45" r="3"/><circle cx="117.49" cy="423.25" r="3"/><circle cx="118.28" cy="423.37" r="3"/><circle cx="119.06" cy="423.05" r="3"/><circle cx="119.85" cy="423.15" r="3"/><circle cx="120.64" cy="423.28" r="3"/><circle cx="121.43" cy="422.19" r="3"/><circle cx="122.22" cy="421.52" r="3"/><circle cx="123.01" cy="421.32" r="3"/><circle cx="123.80" cy="422.57" r="3"/><circle cx="124.59" cy="421.71" r="3"/><circle cx="125.38" cy="422.58" r="3"/><circle cx="126.16" cy="421.76" r="3"/><circle cx="126.95" cy="420.89" r="3"/><circle cx="127.74" cy="422.11" r="3"/><circle cx="128.53" cy="422.71" r="3"/><circle cx="129.32" cy="421.10" r="3"/><circle cx="130.11" cy="420.45" r="3"/><circle cx="130.90" cy="420.39" r="3"/><circle cx="131.69" cy="421.48" r="3"/><circle cx="132.48" cy="420.33" r="3"/><circle cx="133.27" cy="420.33" r="3"/><circle cx="134.06" cy="420.98" r="3"/><circle cx="134.84" cy="420.46" r="3"/><circle cx="135.63" cy="420.48" r="3"/><circle cx="136.42" cy="419.97" r="3"/><circle cx="137.21" cy="419.85" r="3"/><circle cx="138.00" cy="420.36" r="3"/><circle cx="138.79" cy="420.31" r="3"/><circle cx="139.58" cy="420.57" r="3"/><circle cx="140.37" cy="419.75" r="3"/><circle cx="141.16" cy="420.29" r="3"/><circle cx="141.94" cy="420.34" r="3"/><circle cx="142.73" cy="420.01" r="3"/><circle cx="143.52" cy="420.30" r="3"/><circle cx="144.31" cy="420.56" r="3"/><circle cx="145.10" cy="419.94" r="3"/><circle cx="145.89" cy="419.81" r="3"/><circle cx="146.68" cy="419.03" r="3"/><circle cx="147.47" cy="419.89" r="3"/><circle cx="148.26" cy="419.54" r="3"/><circle cx="149.05" cy="419.34" r="3"/><circle cx="149.84" cy="418.93" r="3"/><circle cx="150.62" cy="419.90" r="3"/><circle cx="151.41" cy="421.29" r="3"/><circle cx="152.20" cy="419.80" r="3"/><circle cx="152.99" cy="419.56" r="3"/><circle cx="153.78" cy="419.81" r="3"/><circle cx="154.57" cy="419.09" r="3"/><circle cx="155.36" cy="419.57" r="3"/><circle cx="156.15" cy="419.04" r="3"/><circle cx="156.94" cy="419.05" r="3"/><circle cx="157.72" cy="419.66" r="3"/><circle cx="158.51" cy="419.66" r="3"/><circle cx="159.30" cy="419.42" r="3"/><circle cx="160.09" cy="418.93" r="3"/><circle cx="160.88" cy="419.57" r="3"/><circle cx="161.67" cy="418.53" r="3"/><circle cx="162.46" cy="419.73" r="3"/><circle cx="163.25" cy="418.85" r="3"/><circle cx="164.04" cy="419.00" r="3"/><circle cx="164.83" cy="419.45" r="3"/><circle cx="165.62" cy="419.19" r="3"/><circle cx="166.40" cy="417.79" r="3"/><circle cx="167.19" cy="418.43" r="3"/><circle cx="167.98" cy="418.76" r="3"/><circle cx="168.77" cy="417.64" r="3"/><circle cx="169.56" cy="416.62" r="3"/><circle cx="170.35" cy="418.16" r="3"/><circle cx="171.14" cy="418.07" r="3"/><circle cx="171.93" cy="418.31" r="3"/><circle cx="172.72" cy="417.97" r="3"/><circle cx="173.50" cy="417.90" r="3"/><circle cx="174.29" cy="417.88" r="3"/><circle cx="175.08" cy="418.58" r="3"/><circle cx="175.87" cy="417.86" r="3"/><circle cx="176.66" cy="417.80" r="3"/><circle cx="177.45" cy="417.04" r="3"/><circle cx="178.24" cy="418.01" r="3"/><circle cx="179.03" cy="416.99" r="3"/><circle cx="179.82" cy="417.54" r="3"/><circle cx="180.61" cy="415.57" r="3"/><circle cx="181.40" cy="417.28" r="3"/><circle cx="182.18" cy="417.10" r="3"/><circle cx="182.97" cy="416.90" r="3"/><circle cx="183.76" cy="418.18" r="3"/><circle cx="184.55" cy="417.62" r="3"/><circle cx="185.34" cy="417.30" r="3"/><circle cx="186.13" cy="417.09" r="3"/><circle cx="186.92" cy="418.83" r="3"/><circle cx="187.71" cy="418.10" r="3"/><circle cx="188.50" cy="418.10" r="3"/><circle cx="189.28" cy="417.16" r="3"/><circle cx="190.07" cy="418.67" r="3"/><circle cx="190.86" cy="418.21" r="3"/><circle cx="191.65" cy="417.69" r="3"/><circle cx="192.44" cy="417.86" r="3"/><circle cx="193.23" cy="416.86" r="3"/><circle cx="194.02" cy="418.51" r="3"/><circle cx="194.81" cy="417.35" r="3"/><circle cx="195.60" cy="418.76" r="3"/><circle cx="196.39" cy="417.92" r="3"/><circle cx="197.18" cy="417.85" r="3"/><circle cx="197.96" cy="418.61" r="3"/><circle cx="198.75" cy="418.55" r="3"/><circle cx="199.54" cy="417.68" r="3"/><circle cx="200.33" cy="418.39" r="3"/><circle cx="201.12" cy="418.71" r="3"/><circle cx="201.91" cy="417.97" r="3"/><circle cx="202.70" cy="417.06" r="3"/><circle cx="203.49" cy="417.68" r="3"/><circle cx="204.28" cy="417.03" r="3"/><circle cx="205.06" cy="417.15" r="3"/><circle cx="205.85" cy="417.44" r="3"/><circle cx="206.64" cy="417.22" r="3"/><circle cx="207.43" cy="416.96" r="3"/><circle cx="208.22" cy="415.88" r="3"/><circle cx="209.01" cy="417.42" r="3"/><circle cx="209.80" cy="417.18" r="3"/><circle cx="210.59" cy="417.17" r="3"/><circle cx="211.38" cy="417.70" r="3"/><circle cx="212.17" cy="419.07" r="3"/><circle cx="212.96" cy="416.97" r="3"/><circle cx="213.74" cy="416.88" r="3"/><circle cx="214.53" cy="418.68" r="3"/><circle cx="215.32" cy="417.73" r="3"/><circle cx="216.11" cy="419.33" r="3"/><circle cx="216.90" cy="417.87" r="3"/><circle cx="217.69" cy="418.36" r="3"/><circle cx="218.48" cy="419.42" r="3"/><circle cx="219.27" cy="419.61" r="3"/><circle cx="220.06" cy="419.42" r="3"/><circle cx="220.84" cy="419.56" r="3"/><circle cx="221.63" cy="419.30" r="3"/><circle cx="222.42" cy="419.22" r="3"/><circle cx="223.21" cy="419.52" r="3"/><circle cx="224.00" cy="420.69" r="3"/><circle cx="224.79" cy="420.43" r="3"/><circle cx="225.58" cy="420.09" r="3"/><circle cx="226.37" cy="420.44" r="3"/><circle cx="227.16" cy="420.93" r="3"/><circle cx="227.95" cy="421.31" r="3"/><circle cx="228.74" cy="420.39" r="3"/><circle cx="229.52" cy="420.41" r="3"/><circle cx="230.31" cy="420.67" r="3"/><circle cx="231.10" cy="422.24" r="3"/><circle cx="231.89" cy="420.57" r="3"/><circle cx="232.68" cy="421.27" r="3"/><circle cx="233.47" cy="419.30" r="3"/><circle cx="234.26" cy="420.93" r="3"/><circle cx="235.05" cy="419.35" r="3"/><circle cx="235.84" cy="419.55" r="3"/><circle cx="236.62" cy="419.84" r="3"/><circle cx="237.41" cy="420.17" r="3"/><circle cx="238.20" cy="420.37" r="3"/><circle cx="238.99" cy="420.48" r="3"/><circle cx="239.78" cy="420.36" r="3"/><circle cx="240.57" cy="419.86" r="3"/><circle cx="241.36" cy="421.92" r="3"/><circle cx="242.15" cy="420.35" r="3"/><circle cx="242.94" cy="420.49" r="3"/><circle cx="243.73" cy="421.38" r="3"/><circle cx="244.52" cy="420.60" r="3"/><circle cx="245.30" cy="420.28" r="3"/><circle cx="246.09" cy="420.06" r="3"/><circle cx="246.88" cy="421.08" r="3"/><circle cx="247.67" cy="418.99" r="3"/><circle cx="248.46" cy="419.03" r="3"/><circle cx="249.25" cy="419.75" r="3"/><circle cx="250.04" cy="418.18" r="3"/><circle cx="250.83" cy="419.01" r="3"/><circle cx="251.62" cy="420.29" r="3"/><circle cx="252.41" cy="419.14" r="3"/><circle cx="253.19" cy="419.52" r="3"/><circle cx="253.98" cy="419.84" r="3"/><circle cx="254.77" cy="418.51" r="3"/><circle cx="255.56" cy="419.45" r="3"/><circle cx="256.35" cy="418.78" r="3"/><circle cx="257.14" cy="418.41" r="3"/><circle cx="257.93" cy="418.93" r="3"/><circle cx="258.72" cy="419.04" r="3"/><circle cx="259.51" cy="418.75" r="3"/><circle cx="260.30" cy="418.54" r="3"/><circle cx="261.08" cy="419.66" r="3"/><circle cx="261.87" cy="419.80" r="3"/><circle cx="262.66" cy="419.39" r="3"/><circle cx="263.45" cy="418.93" r="3"/><circle cx="264.24" cy="418.27" r="3"/><circle cx="265.03" cy="418.43" r="3"/><circle cx="265.82" cy="418.23" r="3"/><circle cx="266.61" cy="419.15" r="3"/><circle cx="267.40" cy="419.63" r="3"/><circle cx="268.19" cy="419.63" r="3"/><circle cx="268.97" cy="418.98" r="3"/><circle cx="269.76" cy="418.73" r="3"/><circle cx="270.55" cy="419.12" r="3"/><circle cx="271.34" cy="419.08" r="3"/><circle cx="272.13" cy="419.41" r="3"/><circle cx="272.92" cy="420.02" r="3"/><circle cx="273.71" cy="418.53" r="3"/><circle cx="274.50" cy="420.45" r="3"/><circle cx="275.29" cy="417.54" r="3"/><circle cx="276.08" cy="417.77" r="3"/><circle cx="276.86" cy="417.95" r="3"/><circle cx="277.65" cy="418.29" r="3"/><circle cx="278.44" cy="418.84" r="3"/><circle cx="279.23" cy="420.43" r="3"/><circle cx="280.02" cy="418.51" r="3"/><circle cx="280.81" cy="419.56" r="3"/><circle cx="281.60" cy="418.35" r="3"/><circle cx="282.39" cy="418.51" r="3"/><circle cx="283.18" cy="417.50" r="3"/><circle cx="283.97" cy="419.58" r="3"/><circle cx="284.75" cy="417.78" r="3"/><circle cx="285.54" cy="417.19" r="3"/><circle cx="286.33" cy="418.99" r="3"/><circle cx="287.12" cy="417.35" r="3"/><circle cx="287.91" cy="417.31" r="3"/><circle cx="288.70" cy="416.72" r="3"/><circle cx="289.49" cy="416.05" r="3"/><circle cx="290.28" cy="415.55" r="3"/><circle cx="291.07" cy="416.54" r="3"/><circle cx="291.86" cy="417.90" r="3"/><circle cx="292.64" cy="417.19" r="3"/><circle cx="293.43" cy="416.89" r="3"/><circle cx="294.22" cy="417.87" r="3"/><circle cx="295.01" cy="416.61" r="3"/><circle cx="295.80" cy="418.32" r="3"/><circle cx="296.59" cy="417.48" r="3"/><circle cx="297.38" cy="417.03" r="3"/><circle cx="298.17" cy="418.20" r="3"/><circle cx="298.96" cy="418.20" r="3"/><circle cx="299.75" cy="417.72" r="3"/><circle cx="300.53" cy="418.06" r="3"/><circle cx="301.32" cy="418.46" r="3"/><circle cx="302.11" cy="418.62" r="3"/><circle cx="302.90" cy="416.93" r="3"/><circle cx="303.69" cy="415.56" r="3"/><circle cx="304.48" cy="418.67" r="3"/><circle cx="305.27" cy="416.94" r="3"/><circle cx="306.06" cy="416.70" r="3"/><circle cx="306.85" cy="417.16" r="3"/><circle cx="307.64" cy="416.43" r="3"/><circle cx="308.42" cy="417.32" r="3"/><circle cx="309.21" cy="415.60" r="3"/><circle cx="310.00" cy="416.19" r="3"/><circle cx="310.79" cy="415.33" r="3"/><circle cx="311.58" cy="417.13" r="3"/><circle cx="312.37" cy="415.77" r="3"/><circle cx="313.16" cy="416.57" r="3"/><circle cx="313.95" cy="416.64" r="3"/><circle cx="314.74" cy="414.72" r="3"/><circle cx="315.53" cy="415.32" r="3"/><circle cx="316.31" cy="415.92" r="3"/><circle cx="317.10" cy="415.41" r="3"/><circle cx="317.89" cy="415.23" r="3"/><circle cx="318.68" cy="415.86" r="3"/><circle cx="319.47" cy="415.87" r="3"/><circle cx="320.26" cy="414.77" r="3"/><circle cx="321.05" cy="415.04" r="3"/><circle cx="321.84" cy="415.54" r="3"/><circle cx="322.63" cy="415.19" r="3"/><circle cx="323.42" cy="415.09" r="3"/><circle cx="324.20" cy="414.17" r="3"/><circle cx="324.99" cy="416.12" r="3"/><circle cx="325.78" cy="414.69" r="3"/><circle cx="326.57" cy="414.99" r="3"/><circle cx="327.36" cy="414.73" r="3"/><circle cx="328.15" cy="414.76" r="3"/><circle cx="328.94" cy="414.77" r="3"/><circle cx="329.73" cy="414.04" r="3"/><circle cx="330.52" cy="414.83" r="3"/><circle cx="331.31" cy="415.36" r="3"/><circle cx="332.09" cy="414.75" r="3"/><circle cx="332.88" cy="414.93" r="3"/><circle cx="333.67" cy="414.72" r="3"/><circle cx="334.46" cy="414.35" r="3"/><circle cx="335.25" cy="415.54" r="3"/><circle cx="336.04" cy="413.76" r="3"/><circle cx="336.83" cy="414.46" r="3"/><circle cx="337.62" cy="414.86" r="3"/><circle cx="338.41" cy="414.30" r="3"/><circle cx="339.20" cy="413.32" r="3"/><circle cx="339.98" cy="413.25" r="3"/><circle cx="340.77" cy="415.13" r="3"/><circle cx="341.56" cy="413.43" r="3"/><circle cx="342.35" cy="414.15" r="3"/><circle cx="343.14" cy="414.57" r="3"/><circle cx="343.93" cy="414.31" r="3"/><circle cx="344.72" cy="413.06" r="3"/><circle cx="345.51" cy="413.03" r="3"/><circle cx="346.30" cy="414.32" r="3"/><circle cx="347.09" cy="413.91" r="3"/><circle cx="347.87" cy="414.31" r="3"/><circle cx="348.66" cy="414.60" r="3"/><circle cx="349.45" cy="414.70" r="3"/><circle cx="350.24" cy="413.71" r="3"/><circle cx="351.03" cy="413.52" r="3"/><circle cx="351.82" cy="415.39" r="3"/><circle cx="352.61" cy="414.35" r="3"/><circle cx="353.40" cy="414.02" r="3"/><circle cx="354.19" cy="413.50" r="3"/><circle cx="354.98" cy="415.31" r="3"/><circle cx="355.76" cy="414.11" r="3"/><circle cx="356.55" cy="414.31" r="3"/><circle cx="357.34" cy="415.52" r="3"/><circle cx="358.13" cy="415.35" r="3"/><circle cx="358.92" cy="415.57" r="3"/><circle cx="359.71" cy="414.35" r="3"/><circle cx="360.50" cy="413.29" r="3"/><circle cx="361.29" cy="414.64" r="3"/><circle cx="362.08" cy="415.17" r="3"/><circle cx="362.87" cy="414.97" r="3"/><circle cx="363.65" cy="416.10" r="3"/><circle cx="364.44" cy="415.76" r="3"/><circle cx="365.23" cy="414.79" r="3"/><circle cx="366.02" cy="415.91" r="3"/><circle cx="366.81" cy="415.42" r="3"/><circle cx="367.60" cy="415.20" r="3"/><circle cx="368.39" cy="416.32" r="3"/><circle cx="369.18" cy="414.39" r="3"/><circle cx="369.97" cy="416.27" r="3"/><circle cx="370.76" cy="416.32" r="3"/><circle cx="371.54" cy="414.14" r="3"/><circle cx="372.33" cy="415.45" r="3"/><circle cx="373.12" cy="415.47" r="3"/><circle cx="373.91" cy="414.80" r="3"/><circle cx="374.70" cy="415.20" r="3"/><circle cx="375.49" cy="415.04" r="3"/><circle cx="376.28" cy="415.66" r="3"/><circle cx="377.07" cy="415.23" r="3"/><circle cx="377.86" cy="414.14" r="3"/><circle cx="378.65" cy="416.47" r="3"/><circle cx="379.43" cy="416.27" r="3"/><circle cx="380.22" cy="415.07" r="3"/><circle cx="381.01" cy="416.27" r="3"/><circle cx="381.80" cy="417.08" r="3"/><circle cx="382.59" cy="414.59" r="3"/><circle cx="383.38" cy="415.40" r="3"/><circle cx="384.17" cy="415.33" r="3"/><circle cx="384.96" cy="416.09" r="3"/><circle cx="385.75" cy="415.49" r="3"/><circle cx="386.54" cy="414.74" r="3"/><circle cx="387.32" cy="416.60" r="3"/><circle cx="388.11" cy="415.50" r="3"/><circle cx="388.90" cy="416.24" r="3"/><circle cx="389.69" cy="417.34" r="3"/><circle cx="390.48" cy="415.23" r="3"/><circle cx="391.27" cy="415.47" r="3"/><circle cx="392.06" cy="416.40" r="3"/><circle cx="392.85" cy="415.70" r="3"/><circle cx="393.64" cy="416.14" r="3"/><circle cx="394.43" cy="415.78" r="3"/><circle cx="395.21" cy="417.75" r="3"/><circle cx="396.00" cy="416.24" r="3"/><circle cx="396.79" cy="416.12" r="3"/><circle cx="397.58" cy="416.04" r="3"/><circle cx="398.37" cy="416.29" r="3"/><circle cx="399.16" cy="414.96" r="3"/><circle cx="399.95" cy="415.98" r="3"/><circle cx="400.74" cy="416.76" r="3"/><circle cx="401.53" cy="415.48" r="3"/><circle cx="402.32" cy="416.42" r="3"/><circle cx="403.10" cy="416.40" r="3"/><circle cx="403.89" cy="416.18" r="3"/><circle cx="404.68" cy="418.36" r="3"/><circle cx="405.47" cy="417.19" r="3"/><circle cx="406.26" cy="417.00" r="3"/><circle cx="407.05" cy="416.29" r="3"/><circle cx="407.84" cy="416.97" r="3"/><circle cx="408.63" cy="416.78" r="3"/><circle cx="409.42" cy="417.00" r="3"/><circle cx="410.21" cy="417.29" r="3"/><circle cx="410.99" cy="418.96" r="3"/><circle cx="411.78" cy="418.22" r="3"/><circle cx="412.57" cy="418.55" r="3"/><circle cx="413.36" cy="418.39" r="3"/><circle cx="414.15" cy="419.48" r="3"/><circle cx="414.94" cy="417.11" r="3"/><circle cx="415.73" cy="416.75" r="3"/><circle cx="416.52" cy="417.87" r="3"/><circle cx="417.31" cy="417.98" r="3"/><circle cx="418.10" cy="417.90" r="3"/><circle cx="418.88" cy="417.51" r="3"/><circle cx="419.67" cy="418.50" r="3"/><circle cx="420.46" cy="419.30" r="3"/><circle cx="421.25" cy="418.32" r="3"/><circle cx="422.04" cy="418.08" r="3"/><circle cx="422.83" cy="419.15" r="3"/><circle cx="423.62" cy="418.18" r="3"/><circle cx="424.41" cy="418.22" r="3"/><circle cx="425.20" cy="418.76" r="3"/><circle cx="425.99" cy="417.02" r="3"/><circle cx="426.77" cy="420.01" r="3"/><circle cx="427.56" cy="418.69" r="3"/><circle cx="428.35" cy="419.21" r="3"/><circle cx="429.14" cy="419.16" r="3"/><circle cx="429.93" cy="419.31" r="3"/><circle cx="430.72" cy="418.18" r="3"/><circle cx="431.51" cy="420.45" r="3"/><circle cx="432.30" cy="419.70" r="3"/><circle cx="433.09" cy="419.60" r="3"/><circle cx="433.88" cy="421.69" r="3"/><circle cx="434.66" cy="418.69" r="3"/><circle cx="435.45" cy="420.19" r="3"/><circle cx="436.24" cy="419.69" r="3"/><circle cx="437.03" cy="418.80" r="3"/><circle cx="437.82" cy="421.30" r="3"/><circle cx="438.61" cy="418.95" r="3"/><circle cx="439.40" cy="420.23" r="3"/><circle cx="440.19" cy="420.16" r="3"/><circle cx="440.98" cy="420.44" r="3"/><circle cx="441.77" cy="419.75" r="3"/><circle cx="442.55" cy="421.45" r="3"/><circle cx="443.34" cy="420.77" r="3"/><circle cx="444.13" cy="419.79" r="3"/><circle cx="444.92" cy="419.92" r="3"/><circle cx="445.71" cy="421.06" r="3"/><circle cx="446.50" cy="420.14" r="3"/><circle cx="447.29" cy="421.35" r="3"/><circle cx="448.08" cy="421.37" r="3"/><circle cx="448.87" cy="420.82" r="3"/><circle cx="449.66" cy="419.97" r="3"/><circle cx="450.44" cy="420.50" r="3"/><circle cx="451.23" cy="421.76" r="3"/><circle cx="452.02" cy="421.24" r="3"/><circle cx="452.81" cy="422.99" r="3"/><circle cx="453.60" cy="421.47" r="3"/></g>
</g>
<circle cx="60.6" cy="397.6" r="2.8" fill="#000"/>
<circle cx="60.6" cy="403" r="2.9" fill="#ff0000"/>
<line x1="230.00" y1="385.80" x2="296.00" y2="385.80" stroke="#000" stroke-width="1.5" />
<path d="M306,385.8 L295,382.6 L295,389 Z" fill="#000"/>
<line x1="239.00" y1="408.10" x2="304.70" y2="408.10" stroke="#000" stroke-width="1.5" />
<path d="M229.3,408.1 L240.3,404.9 L240.3,411.3 Z" fill="#000"/>
</svg></body></html>
